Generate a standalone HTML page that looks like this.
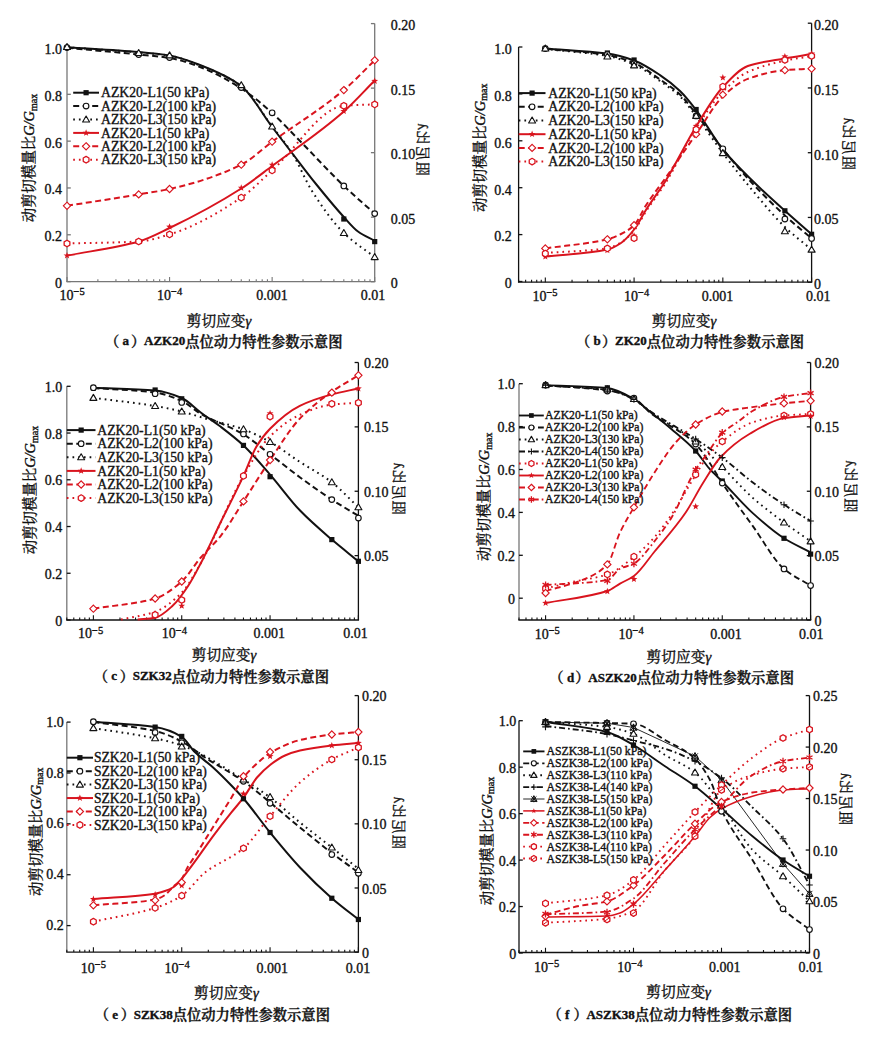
<!DOCTYPE html>
<html><head><meta charset="utf-8"><style>
html,body{margin:0;padding:0;background:#fff;}
svg{display:block;}
text{fill:#111;stroke:#111;stroke-width:0.35px;}
</style></head><body>
<svg width="878" height="1040" viewBox="0 0 878 1040">
<rect width="878" height="1040" fill="#fff"/>
<path d="M67.00 44.00V281.70" fill="none" stroke="#777777" stroke-width="1.30"/>
<path d="M374.70 23.60V281.70" fill="none" stroke="#777777" stroke-width="1.30"/>
<path d="M66.35 281.70H375.35" fill="none" stroke="#777777" stroke-width="1.30"/>
<path d="M67.00 281.60h3.80" stroke="#777777" stroke-width="1.30"/>
<text x="62.00" y="288.10" font-size="14.00" text-anchor="end" font-family="'Liberation Serif', serif" font-weight="normal">0</text>
<path d="M67.00 234.78h3.80" stroke="#777777" stroke-width="1.30"/>
<text x="62.00" y="241.28" font-size="14.00" text-anchor="end" font-family="'Liberation Serif', serif" font-weight="normal">0.2</text>
<path d="M67.00 187.96h3.80" stroke="#777777" stroke-width="1.30"/>
<text x="62.00" y="194.46" font-size="14.00" text-anchor="end" font-family="'Liberation Serif', serif" font-weight="normal">0.4</text>
<path d="M67.00 141.14h3.80" stroke="#777777" stroke-width="1.30"/>
<text x="62.00" y="147.64" font-size="14.00" text-anchor="end" font-family="'Liberation Serif', serif" font-weight="normal">0.6</text>
<path d="M67.00 94.32h3.80" stroke="#777777" stroke-width="1.30"/>
<text x="62.00" y="100.82" font-size="14.00" text-anchor="end" font-family="'Liberation Serif', serif" font-weight="normal">0.8</text>
<path d="M67.00 47.50h3.80" stroke="#777777" stroke-width="1.30"/>
<text x="62.00" y="54.00" font-size="14.00" text-anchor="end" font-family="'Liberation Serif', serif" font-weight="normal">1.0</text>
<path d="M374.70 281.70h-3.80" stroke="#777777" stroke-width="1.30"/>
<text x="390.70" y="288.20" font-size="14.00" text-anchor="start" font-family="'Liberation Serif', serif" font-weight="normal">0</text>
<path d="M374.70 217.18h-3.80" stroke="#777777" stroke-width="1.30"/>
<text x="390.70" y="223.68" font-size="14.00" text-anchor="start" font-family="'Liberation Serif', serif" font-weight="normal">0.05</text>
<path d="M374.70 152.65h-3.80" stroke="#777777" stroke-width="1.30"/>
<text x="390.70" y="159.15" font-size="14.00" text-anchor="start" font-family="'Liberation Serif', serif" font-weight="normal">0.10</text>
<path d="M374.70 88.13h-3.80" stroke="#777777" stroke-width="1.30"/>
<text x="390.70" y="94.63" font-size="14.00" text-anchor="start" font-family="'Liberation Serif', serif" font-weight="normal">0.15</text>
<path d="M374.70 23.60h-3.80" stroke="#777777" stroke-width="1.30"/>
<text x="390.70" y="30.10" font-size="14.00" text-anchor="start" font-family="'Liberation Serif', serif" font-weight="normal">0.20</text>
<path d="M67.00 281.70v-4.75" stroke="#777777" stroke-width="1.1"/>
<path d="M97.88 281.70v-2.47" stroke="#777777" stroke-width="1.1"/>
<path d="M115.94 281.70v-2.47" stroke="#777777" stroke-width="1.1"/>
<path d="M128.75 281.70v-2.47" stroke="#777777" stroke-width="1.1"/>
<path d="M138.69 281.70v-2.47" stroke="#777777" stroke-width="1.1"/>
<path d="M146.81 281.70v-2.47" stroke="#777777" stroke-width="1.1"/>
<path d="M153.68 281.70v-2.47" stroke="#777777" stroke-width="1.1"/>
<path d="M159.63 281.70v-2.47" stroke="#777777" stroke-width="1.1"/>
<path d="M164.87 281.70v-2.47" stroke="#777777" stroke-width="1.1"/>
<path d="M169.57 281.70v-4.75" stroke="#777777" stroke-width="1.1"/>
<path d="M200.44 281.70v-2.47" stroke="#777777" stroke-width="1.1"/>
<path d="M218.50 281.70v-2.47" stroke="#777777" stroke-width="1.1"/>
<path d="M231.32 281.70v-2.47" stroke="#777777" stroke-width="1.1"/>
<path d="M241.26 281.70v-2.47" stroke="#777777" stroke-width="1.1"/>
<path d="M249.38 281.70v-2.47" stroke="#777777" stroke-width="1.1"/>
<path d="M256.25 281.70v-2.47" stroke="#777777" stroke-width="1.1"/>
<path d="M262.19 281.70v-2.47" stroke="#777777" stroke-width="1.1"/>
<path d="M267.44 281.70v-2.47" stroke="#777777" stroke-width="1.1"/>
<path d="M272.13 281.70v-4.75" stroke="#777777" stroke-width="1.1"/>
<path d="M303.01 281.70v-2.47" stroke="#777777" stroke-width="1.1"/>
<path d="M321.07 281.70v-2.47" stroke="#777777" stroke-width="1.1"/>
<path d="M333.88 281.70v-2.47" stroke="#777777" stroke-width="1.1"/>
<path d="M343.82 281.70v-2.47" stroke="#777777" stroke-width="1.1"/>
<path d="M351.95 281.70v-2.47" stroke="#777777" stroke-width="1.1"/>
<path d="M358.81 281.70v-2.47" stroke="#777777" stroke-width="1.1"/>
<path d="M364.76 281.70v-2.47" stroke="#777777" stroke-width="1.1"/>
<path d="M370.01 281.70v-2.47" stroke="#777777" stroke-width="1.1"/>
<path d="M374.70 281.70v-4.75" stroke="#777777" stroke-width="1.1"/>
<text x="72.10" y="300.30" font-size="14.00" text-anchor="middle" font-family="'Liberation Serif', serif">10<tspan font-size="10.5" dy="-4.9">&#8722;5</tspan></text>
<text x="169.60" y="300.30" font-size="14.00" text-anchor="middle" font-family="'Liberation Serif', serif">10<tspan font-size="10.5" dy="-4.9">&#8722;4</tspan></text>
<text x="272.00" y="300.30" font-size="14.00" text-anchor="middle" font-family="'Liberation Serif', serif" font-weight="normal">0.001</text>
<text x="373.00" y="300.30" font-size="14.00" text-anchor="middle" font-family="'Liberation Serif', serif" font-weight="normal">0.01</text>
<text transform="translate(34.38 158.00) rotate(-90)" font-size="14.40" text-anchor="middle" font-family="'Liberation Serif', 'Noto Serif CJK SC', serif">动剪切模量比<tspan font-style="italic" font-family="'Liberation Serif', serif">G/G</tspan><tspan font-size="10" dy="2.5">max</tspan></text>
<text transform="translate(417.56 148.80) scale(-1 1) rotate(-90)" font-size="14.00" text-anchor="middle" letter-spacing="1.3" font-family="'Liberation Serif', 'Noto Serif CJK SC', serif">阻尼比<tspan font-style="italic" font-family="'Liberation Serif', serif">λ</tspan></text>
<text x="219.00" y="325.59" font-size="14.70" text-anchor="middle" font-family="'Liberation Serif', 'Noto Serif CJK SC', serif">剪切应变<tspan font-style="italic" font-family="'Liberation Serif', serif">γ</tspan></text>
<text y="346.65" font-size="14.30" font-family="'Liberation Serif', 'Noto Serif CJK SC', serif" font-weight="600"><tspan x="105.00">（</tspan><tspan x="122.60" y="345.45" font-size="13" font-weight="bold">a</tspan><tspan x="131.00" y="346.65">）</tspan><tspan x="144.00" y="345.45" font-size="13" font-weight="bold">AZK20</tspan><tspan y="346.65">点位动力特性参数示意图</tspan></text>
<path d="M67.00 47.30C90.90 48.87 114.79 49.94 138.69 52.00C148.98 52.89 159.27 53.79 169.57 55.50C179.71 57.19 189.86 61.12 200.00 65.00C213.75 70.26 227.51 75.66 241.26 86.00C251.55 93.74 261.84 113.44 272.13 127.00C278.76 135.73 285.38 144.39 292.00 153.00C300.00 163.40 308.00 174.10 316.00 184.00C325.27 195.48 334.55 206.89 343.82 217.00C348.55 222.15 353.27 228.09 358.00 231.50C363.57 235.52 369.13 237.63 374.70 240.70" fill="none" stroke="#111111" stroke-width="2.00"/>
<path d="M67.00 47.80C90.90 50.03 114.79 52.02 138.69 54.50C148.98 55.57 159.27 56.31 169.57 58.00C179.71 59.66 189.86 63.22 200.00 67.00C213.75 72.12 227.51 79.76 241.26 88.50C251.55 95.04 261.84 103.86 272.13 113.00C281.42 121.25 290.71 131.58 300.00 141.00C314.61 155.81 329.22 171.98 343.82 185.90C354.12 195.71 364.41 204.37 374.70 213.60" fill="none" stroke="#111111" stroke-width="2.00" stroke-dasharray="6 3.5"/>
<path d="M67.00 47.30C90.90 49.03 114.79 50.44 138.69 52.50C148.98 53.39 159.27 54.02 169.57 55.60C179.71 57.16 189.86 61.55 200.00 65.50C213.75 70.85 227.51 75.87 241.26 86.00C251.55 93.58 261.84 112.88 272.13 126.50C278.76 135.26 285.38 142.62 292.00 153.00C298.67 163.45 305.33 180.47 312.00 191.00C322.61 207.75 333.22 222.61 343.82 233.00C354.12 243.08 364.41 249.07 374.70 257.10" fill="none" stroke="#111111" stroke-width="2.00" stroke-dasharray="1.7 4"/>
<path d="M67.00 255.60C90.90 250.90 114.79 248.33 138.69 241.50C148.98 238.56 159.27 232.94 169.57 228.00C193.46 216.52 217.36 203.78 241.26 188.50C251.55 181.92 261.84 173.64 272.13 166.00C296.03 148.27 319.93 132.56 343.82 111.50C354.12 102.43 364.41 90.83 374.70 80.50" fill="none" stroke="#d9141e" stroke-width="2.00"/>
<path d="M67.00 205.80C90.90 202.00 114.79 198.41 138.69 194.40C148.98 192.67 159.27 191.28 169.57 189.00C193.46 183.71 217.36 176.42 241.26 164.70C251.55 159.65 261.84 149.25 272.13 141.70C296.03 124.16 319.93 110.19 343.82 90.10C354.12 81.45 364.41 70.23 374.70 60.30" fill="none" stroke="#d9141e" stroke-width="2.00" stroke-dasharray="6 3.5"/>
<path d="M67.00 243.50C90.90 242.83 114.79 242.83 138.69 241.50C148.98 240.93 159.27 237.51 169.57 234.40C193.46 227.18 217.36 213.66 241.26 197.60C251.55 190.68 261.84 179.56 272.13 170.40C296.03 149.14 319.93 107.64 343.82 105.80C354.12 105.01 364.41 104.87 374.70 104.40" fill="none" stroke="#d9141e" stroke-width="2.00" stroke-dasharray="1.7 4"/>
<rect x="341.22" y="216.40" width="5.20" height="5.20" fill="#111111"/>
<rect x="372.10" y="239.00" width="5.20" height="5.20" fill="#111111"/>
<circle cx="67.00" cy="47.50" r="2.80" fill="#fff" stroke="#111111" stroke-width="1.15"/>
<circle cx="138.69" cy="54.50" r="2.80" fill="#fff" stroke="#111111" stroke-width="1.15"/>
<circle cx="169.57" cy="57.60" r="2.80" fill="#fff" stroke="#111111" stroke-width="1.15"/>
<circle cx="241.26" cy="87.60" r="2.80" fill="#fff" stroke="#111111" stroke-width="1.15"/>
<circle cx="272.13" cy="112.80" r="2.80" fill="#fff" stroke="#111111" stroke-width="1.15"/>
<circle cx="343.82" cy="185.90" r="2.80" fill="#fff" stroke="#111111" stroke-width="1.15"/>
<circle cx="374.70" cy="213.60" r="2.80" fill="#fff" stroke="#111111" stroke-width="1.15"/>
<polygon points="67.00,43.50 70.50,49.45 63.50,49.45" fill="#fff" stroke="#111111" stroke-width="1.15" stroke-linejoin="round"/>
<polygon points="138.69,49.50 142.19,55.45 135.19,55.45" fill="#fff" stroke="#111111" stroke-width="1.15" stroke-linejoin="round"/>
<polygon points="169.57,51.90 173.07,57.85 166.07,57.85" fill="#fff" stroke="#111111" stroke-width="1.15" stroke-linejoin="round"/>
<polygon points="241.26,81.70 244.76,87.65 237.76,87.65" fill="#fff" stroke="#111111" stroke-width="1.15" stroke-linejoin="round"/>
<polygon points="272.13,123.00 275.63,128.95 268.63,128.95" fill="#fff" stroke="#111111" stroke-width="1.15" stroke-linejoin="round"/>
<polygon points="343.82,229.50 347.32,235.45 340.32,235.45" fill="#fff" stroke="#111111" stroke-width="1.15" stroke-linejoin="round"/>
<polygon points="374.70,253.60 378.20,259.55 371.20,259.55" fill="#fff" stroke="#111111" stroke-width="1.15" stroke-linejoin="round"/>
<polygon points="67.00,252.00 67.88,254.39 70.42,254.49 68.43,256.06 69.12,258.51 67.00,257.10 64.88,258.51 65.57,256.06 63.58,254.49 66.12,254.39" fill="#d9141e"/>
<polygon points="138.69,237.40 139.57,239.79 142.11,239.89 140.12,241.46 140.81,243.91 138.69,242.50 136.57,243.91 137.26,241.46 135.27,239.89 137.81,239.79" fill="#d9141e"/>
<polygon points="169.57,223.20 170.45,225.59 172.99,225.69 170.99,227.26 171.68,229.71 169.57,228.30 167.45,229.71 168.14,227.26 166.14,225.69 168.68,225.59" fill="#d9141e"/>
<polygon points="241.26,184.30 242.14,186.69 244.68,186.79 242.68,188.36 243.37,190.81 241.26,189.40 239.14,190.81 239.83,188.36 237.83,186.79 240.38,186.69" fill="#d9141e"/>
<polygon points="272.13,161.30 273.02,163.69 275.56,163.79 273.56,165.36 274.25,167.81 272.13,166.40 270.02,167.81 270.71,165.36 268.71,163.79 271.25,163.69" fill="#d9141e"/>
<polygon points="343.82,107.60 344.71,109.99 347.25,110.09 345.25,111.66 345.94,114.11 343.82,112.70 341.71,114.11 342.40,111.66 340.40,110.09 342.94,109.99" fill="#d9141e"/>
<polygon points="374.70,77.40 375.58,79.79 378.12,79.89 376.13,81.46 376.82,83.91 374.70,82.50 372.58,83.91 373.27,81.46 371.28,79.89 373.82,79.79" fill="#d9141e"/>
<polygon points="67.00,202.20 70.60,205.80 67.00,209.40 63.40,205.80" fill="#fff" stroke="#d9141e" stroke-width="1.15"/>
<polygon points="138.69,190.80 142.29,194.40 138.69,198.00 135.09,194.40" fill="#fff" stroke="#d9141e" stroke-width="1.15"/>
<polygon points="169.57,185.40 173.17,189.00 169.57,192.60 165.97,189.00" fill="#fff" stroke="#d9141e" stroke-width="1.15"/>
<polygon points="241.26,161.10 244.86,164.70 241.26,168.30 237.66,164.70" fill="#fff" stroke="#d9141e" stroke-width="1.15"/>
<polygon points="272.13,138.10 275.73,141.70 272.13,145.30 268.53,141.70" fill="#fff" stroke="#d9141e" stroke-width="1.15"/>
<polygon points="343.82,86.50 347.42,90.10 343.82,93.70 340.22,90.10" fill="#fff" stroke="#d9141e" stroke-width="1.15"/>
<polygon points="374.70,56.70 378.30,60.30 374.70,63.90 371.10,60.30" fill="#fff" stroke="#d9141e" stroke-width="1.15"/>
<polygon points="67.00,246.80 64.14,245.15 64.14,241.85 67.00,240.20 69.86,241.85 69.86,245.15" fill="#fff" stroke="#d9141e" stroke-width="1.30" stroke-linejoin="round"/>
<polygon points="138.69,244.80 135.83,243.15 135.83,239.85 138.69,238.20 141.55,239.85 141.55,243.15" fill="#fff" stroke="#d9141e" stroke-width="1.30" stroke-linejoin="round"/>
<polygon points="169.57,237.70 166.71,236.05 166.71,232.75 169.57,231.10 172.42,232.75 172.42,236.05" fill="#fff" stroke="#d9141e" stroke-width="1.30" stroke-linejoin="round"/>
<polygon points="241.26,200.90 238.40,199.25 238.40,195.95 241.26,194.30 244.12,195.95 244.12,199.25" fill="#fff" stroke="#d9141e" stroke-width="1.30" stroke-linejoin="round"/>
<polygon points="272.13,173.70 269.28,172.05 269.28,168.75 272.13,167.10 274.99,168.75 274.99,172.05" fill="#fff" stroke="#d9141e" stroke-width="1.30" stroke-linejoin="round"/>
<polygon points="343.82,109.10 340.97,107.45 340.97,104.15 343.82,102.50 346.68,104.15 346.68,107.45" fill="#fff" stroke="#d9141e" stroke-width="1.30" stroke-linejoin="round"/>
<polygon points="374.70,107.70 371.84,106.05 371.84,102.75 374.70,101.10 377.56,102.75 377.56,106.05" fill="#fff" stroke="#d9141e" stroke-width="1.30" stroke-linejoin="round"/>
<path d="M73.20 92.70H99.00" stroke="#111111" stroke-width="2.00"/>
<rect x="83.50" y="90.10" width="5.20" height="5.20" fill="#111111"/>
<text x="101.00" y="97.36" font-size="13.70" text-anchor="start" font-family="'Liberation Serif', serif" font-weight="normal">AZK20-L1(50 kPa)</text>
<path d="M73.20 106.10H99.00" stroke="#111111" stroke-width="2.00" stroke-dasharray="6 3.5"/>
<circle cx="86.10" cy="106.10" r="2.80" fill="#fff" stroke="#111111" stroke-width="1.15"/>
<text x="101.00" y="110.76" font-size="13.70" text-anchor="start" font-family="'Liberation Serif', serif" font-weight="normal">AZK20-L2(100 kPa)</text>
<path d="M73.20 119.50H99.00" stroke="#111111" stroke-width="2.00" stroke-dasharray="1.7 4"/>
<polygon points="86.10,116.00 89.60,121.95 82.60,121.95" fill="#fff" stroke="#111111" stroke-width="1.15" stroke-linejoin="round"/>
<text x="101.00" y="124.16" font-size="13.70" text-anchor="start" font-family="'Liberation Serif', serif" font-weight="normal">AZK20-L3(150 kPa)</text>
<path d="M73.20 132.90H99.00" stroke="#d9141e" stroke-width="2.00"/>
<polygon points="86.10,129.30 86.98,131.69 89.52,131.79 87.53,133.36 88.22,135.81 86.10,134.40 83.98,135.81 84.67,133.36 82.68,131.79 85.22,131.69" fill="#d9141e"/>
<text x="101.00" y="137.56" font-size="13.70" text-anchor="start" font-family="'Liberation Serif', serif" font-weight="normal">AZK20-L1(50 kPa)</text>
<path d="M73.20 146.30H99.00" stroke="#d9141e" stroke-width="2.00" stroke-dasharray="6 3.5"/>
<polygon points="86.10,142.70 89.70,146.30 86.10,149.90 82.50,146.30" fill="#fff" stroke="#d9141e" stroke-width="1.15"/>
<text x="101.00" y="150.96" font-size="13.70" text-anchor="start" font-family="'Liberation Serif', serif" font-weight="normal">AZK20-L2(100 kPa)</text>
<path d="M73.20 159.70H99.00" stroke="#d9141e" stroke-width="2.00" stroke-dasharray="1.7 4"/>
<polygon points="86.10,163.00 83.24,161.35 83.24,158.05 86.10,156.40 88.96,158.05 88.96,161.35" fill="#fff" stroke="#d9141e" stroke-width="1.30" stroke-linejoin="round"/>
<text x="101.00" y="164.36" font-size="13.70" text-anchor="start" font-family="'Liberation Serif', serif" font-weight="normal">AZK20-L3(150 kPa)</text>
<path d="M518.60 47.00V282.20" fill="none" stroke="#111111" stroke-width="1.30"/>
<path d="M811.60 23.20V282.20" fill="none" stroke="#111111" stroke-width="1.30"/>
<path d="M517.95 282.20H812.25" fill="none" stroke="#111111" stroke-width="1.30"/>
<path d="M518.60 281.50h3.80" stroke="#111111" stroke-width="1.30"/>
<text x="511.80" y="288.30" font-size="14.00" text-anchor="end" font-family="'Liberation Serif', serif" font-weight="normal">0</text>
<path d="M518.60 234.60h3.80" stroke="#111111" stroke-width="1.30"/>
<text x="511.80" y="241.40" font-size="14.00" text-anchor="end" font-family="'Liberation Serif', serif" font-weight="normal">0.2</text>
<path d="M518.60 187.70h3.80" stroke="#111111" stroke-width="1.30"/>
<text x="511.80" y="194.50" font-size="14.00" text-anchor="end" font-family="'Liberation Serif', serif" font-weight="normal">0.4</text>
<path d="M518.60 140.80h3.80" stroke="#111111" stroke-width="1.30"/>
<text x="511.80" y="147.60" font-size="14.00" text-anchor="end" font-family="'Liberation Serif', serif" font-weight="normal">0.6</text>
<path d="M518.60 93.90h3.80" stroke="#111111" stroke-width="1.30"/>
<text x="511.80" y="100.70" font-size="14.00" text-anchor="end" font-family="'Liberation Serif', serif" font-weight="normal">0.8</text>
<path d="M518.60 47.00h3.80" stroke="#111111" stroke-width="1.30"/>
<text x="511.80" y="53.80" font-size="14.00" text-anchor="end" font-family="'Liberation Serif', serif" font-weight="normal">1.0</text>
<path d="M811.60 282.20h-3.80" stroke="#111111" stroke-width="1.30"/>
<text x="814.00" y="289.00" font-size="14.00" text-anchor="start" font-family="'Liberation Serif', serif" font-weight="normal">0</text>
<path d="M811.60 217.45h-3.80" stroke="#111111" stroke-width="1.30"/>
<text x="814.00" y="224.25" font-size="14.00" text-anchor="start" font-family="'Liberation Serif', serif" font-weight="normal">0.05</text>
<path d="M811.60 152.70h-3.80" stroke="#111111" stroke-width="1.30"/>
<text x="814.00" y="159.50" font-size="14.00" text-anchor="start" font-family="'Liberation Serif', serif" font-weight="normal">0.10</text>
<path d="M811.60 87.95h-3.80" stroke="#111111" stroke-width="1.30"/>
<text x="814.00" y="94.75" font-size="14.00" text-anchor="start" font-family="'Liberation Serif', serif" font-weight="normal">0.15</text>
<path d="M811.60 23.20h-3.80" stroke="#111111" stroke-width="1.30"/>
<text x="814.00" y="30.00" font-size="14.00" text-anchor="start" font-family="'Liberation Serif', serif" font-weight="normal">0.20</text>
<path d="M518.60 282.20v-2.47" stroke="#111111" stroke-width="1.1"/>
<path d="M525.63 282.20v-2.47" stroke="#111111" stroke-width="1.1"/>
<path d="M531.57 282.20v-2.47" stroke="#111111" stroke-width="1.1"/>
<path d="M536.72 282.20v-2.47" stroke="#111111" stroke-width="1.1"/>
<path d="M541.26 282.20v-2.47" stroke="#111111" stroke-width="1.1"/>
<path d="M545.32 282.20v-4.75" stroke="#111111" stroke-width="1.1"/>
<path d="M572.04 282.20v-2.47" stroke="#111111" stroke-width="1.1"/>
<path d="M587.67 282.20v-2.47" stroke="#111111" stroke-width="1.1"/>
<path d="M598.76 282.20v-2.47" stroke="#111111" stroke-width="1.1"/>
<path d="M607.36 282.20v-2.47" stroke="#111111" stroke-width="1.1"/>
<path d="M614.39 282.20v-2.47" stroke="#111111" stroke-width="1.1"/>
<path d="M620.33 282.20v-2.47" stroke="#111111" stroke-width="1.1"/>
<path d="M625.48 282.20v-2.47" stroke="#111111" stroke-width="1.1"/>
<path d="M630.02 282.20v-2.47" stroke="#111111" stroke-width="1.1"/>
<path d="M634.08 282.20v-4.75" stroke="#111111" stroke-width="1.1"/>
<path d="M660.80 282.20v-2.47" stroke="#111111" stroke-width="1.1"/>
<path d="M676.43 282.20v-2.47" stroke="#111111" stroke-width="1.1"/>
<path d="M687.52 282.20v-2.47" stroke="#111111" stroke-width="1.1"/>
<path d="M696.12 282.20v-2.47" stroke="#111111" stroke-width="1.1"/>
<path d="M703.15 282.20v-2.47" stroke="#111111" stroke-width="1.1"/>
<path d="M709.09 282.20v-2.47" stroke="#111111" stroke-width="1.1"/>
<path d="M714.24 282.20v-2.47" stroke="#111111" stroke-width="1.1"/>
<path d="M718.78 282.20v-2.47" stroke="#111111" stroke-width="1.1"/>
<path d="M722.84 282.20v-4.75" stroke="#111111" stroke-width="1.1"/>
<path d="M749.56 282.20v-2.47" stroke="#111111" stroke-width="1.1"/>
<path d="M765.19 282.20v-2.47" stroke="#111111" stroke-width="1.1"/>
<path d="M776.28 282.20v-2.47" stroke="#111111" stroke-width="1.1"/>
<path d="M784.88 282.20v-2.47" stroke="#111111" stroke-width="1.1"/>
<path d="M791.91 282.20v-2.47" stroke="#111111" stroke-width="1.1"/>
<path d="M797.85 282.20v-2.47" stroke="#111111" stroke-width="1.1"/>
<path d="M803.00 282.20v-2.47" stroke="#111111" stroke-width="1.1"/>
<path d="M807.54 282.20v-2.47" stroke="#111111" stroke-width="1.1"/>
<path d="M811.60 282.20v-4.75" stroke="#111111" stroke-width="1.1"/>
<text x="545.00" y="300.80" font-size="14.00" text-anchor="middle" font-family="'Liberation Serif', serif">10<tspan font-size="10.5" dy="-4.9">&#8722;5</tspan></text>
<text x="636.60" y="300.80" font-size="14.00" text-anchor="middle" font-family="'Liberation Serif', serif">10<tspan font-size="10.5" dy="-4.9">&#8722;4</tspan></text>
<text x="717.50" y="300.80" font-size="14.00" text-anchor="middle" font-family="'Liberation Serif', serif" font-weight="normal">0.001</text>
<text x="818.20" y="300.80" font-size="14.00" text-anchor="middle" font-family="'Liberation Serif', serif" font-weight="normal">0.01</text>
<text transform="translate(484.68 147.80) rotate(-90)" font-size="14.40" text-anchor="middle" font-family="'Liberation Serif', 'Noto Serif CJK SC', serif">动剪切模量比<tspan font-style="italic" font-family="'Liberation Serif', serif">G/G</tspan><tspan font-size="10" dy="2.5">max</tspan></text>
<text transform="translate(843.96 143.00) scale(-1 1) rotate(-90)" font-size="14.00" text-anchor="middle" letter-spacing="1.3" font-family="'Liberation Serif', 'Noto Serif CJK SC', serif">阻尼比<tspan font-style="italic" font-family="'Liberation Serif', serif">λ</tspan></text>
<text x="684.00" y="325.59" font-size="14.70" text-anchor="middle" font-family="'Liberation Serif', 'Noto Serif CJK SC', serif">剪切应变<tspan font-style="italic" font-family="'Liberation Serif', serif">γ</tspan></text>
<text y="346.65" font-size="14.30" font-family="'Liberation Serif', 'Noto Serif CJK SC', serif" font-weight="600"><tspan x="576.00">（</tspan><tspan x="593.60" y="345.45" font-size="13" font-weight="bold">b</tspan><tspan x="602.00" y="346.65">）</tspan><tspan x="615.00" y="345.45" font-size="13" font-weight="bold">ZK20</tspan><tspan y="346.65">点位动力特性参数示意图</tspan></text>
<path d="M545.32 48.50C566.00 50.20 586.68 50.83 607.36 53.60C616.27 54.79 625.17 57.34 634.08 60.50C642.72 63.57 651.36 69.36 660.00 75.10C666.67 79.53 673.33 84.63 680.00 91.00C685.37 96.14 690.75 103.02 696.12 110.00C705.03 121.57 713.93 138.50 722.84 149.50C732.89 161.92 742.95 171.38 753.00 181.30C763.63 191.78 774.25 201.22 784.88 210.80C793.79 218.83 802.69 226.47 811.60 234.30" fill="none" stroke="#111111" stroke-width="2.00"/>
<path d="M545.32 48.80C566.00 50.87 586.68 51.68 607.36 55.00C616.27 56.43 625.17 59.37 634.08 63.00C642.72 66.53 651.36 73.53 660.00 79.50C666.67 84.11 673.33 88.27 680.00 94.50C685.37 99.52 690.75 107.26 696.12 114.00C705.03 125.17 713.93 138.03 722.84 149.00C732.89 161.39 742.95 173.26 753.00 184.00C763.63 195.35 774.25 205.77 784.88 215.50C793.79 223.66 802.69 230.77 811.60 238.40" fill="none" stroke="#111111" stroke-width="2.00" stroke-dasharray="6 3.5"/>
<path d="M545.32 49.00C566.00 51.33 586.68 52.32 607.36 56.00C616.27 57.58 625.17 60.72 634.08 64.50C642.72 68.17 651.36 74.94 660.00 81.00C666.67 85.68 673.33 90.15 680.00 96.50C685.37 101.62 690.75 109.10 696.12 116.00C705.03 127.44 713.93 141.24 722.84 153.00C732.89 166.28 742.95 179.02 753.00 191.00C763.63 203.66 774.25 216.74 784.88 227.00C793.79 235.60 802.69 242.13 811.60 249.70" fill="none" stroke="#111111" stroke-width="2.00" stroke-dasharray="1.7 4"/>
<path d="M545.32 256.50C566.00 254.20 586.68 253.92 607.36 249.60C611.91 248.65 616.45 246.00 621.00 243.00C625.36 240.12 629.72 235.05 634.08 229.50C638.12 224.35 642.16 215.82 646.20 209.50C652.63 199.43 659.07 191.31 665.50 181.00C675.71 164.64 685.91 142.95 696.12 126.50C705.03 112.14 713.93 96.52 722.84 87.00C731.16 78.11 739.48 68.86 747.80 66.00C760.16 61.76 772.52 60.61 784.88 58.40C793.79 56.80 802.69 55.53 811.60 54.10" fill="none" stroke="#d9141e" stroke-width="2.00"/>
<path d="M545.32 248.40C566.00 245.37 586.68 244.17 607.36 239.30C611.91 238.23 616.45 236.24 621.00 234.00C625.36 231.85 629.72 229.40 634.08 225.20C638.12 221.31 642.16 211.19 646.20 205.00C652.63 195.15 659.07 187.09 665.50 178.00C675.71 163.57 685.91 148.70 696.12 134.20C705.03 121.55 713.93 104.84 722.84 96.50C731.16 88.71 739.48 81.93 747.80 78.90C760.16 74.40 772.52 71.28 784.88 70.20C793.79 69.42 802.69 69.20 811.60 68.70" fill="none" stroke="#d9141e" stroke-width="2.00" stroke-dasharray="6 3.5"/>
<path d="M545.32 253.00C566.00 251.40 586.68 251.36 607.36 248.20C611.91 247.50 616.45 245.12 621.00 242.50C625.36 239.99 629.72 235.61 634.08 230.50C638.12 225.76 642.16 217.19 646.20 211.00C652.63 201.15 659.07 193.24 665.50 183.00C675.71 166.75 685.91 143.72 696.12 128.00C705.03 114.29 713.93 100.69 722.84 91.80C731.16 83.50 739.48 75.77 747.80 72.00C760.16 66.40 772.52 63.42 784.88 60.70C793.79 58.74 802.69 57.57 811.60 56.00" fill="none" stroke="#d9141e" stroke-width="2.00" stroke-dasharray="1.7 4"/>
<rect x="542.72" y="45.90" width="5.20" height="5.20" fill="#111111"/>
<rect x="604.76" y="50.40" width="5.20" height="5.20" fill="#111111"/>
<rect x="631.48" y="57.40" width="5.20" height="5.20" fill="#111111"/>
<rect x="693.52" y="106.90" width="5.20" height="5.20" fill="#111111"/>
<rect x="720.24" y="146.90" width="5.20" height="5.20" fill="#111111"/>
<rect x="782.28" y="208.20" width="5.20" height="5.20" fill="#111111"/>
<rect x="809.00" y="231.70" width="5.20" height="5.20" fill="#111111"/>
<circle cx="545.32" cy="48.50" r="2.80" fill="#fff" stroke="#111111" stroke-width="1.15"/>
<circle cx="607.36" cy="54.50" r="2.80" fill="#fff" stroke="#111111" stroke-width="1.15"/>
<circle cx="634.08" cy="63.60" r="2.80" fill="#fff" stroke="#111111" stroke-width="1.15"/>
<circle cx="696.12" cy="115.90" r="2.80" fill="#fff" stroke="#111111" stroke-width="1.15"/>
<circle cx="722.84" cy="148.80" r="2.80" fill="#fff" stroke="#111111" stroke-width="1.15"/>
<circle cx="784.88" cy="219.00" r="2.80" fill="#fff" stroke="#111111" stroke-width="1.15"/>
<circle cx="811.60" cy="238.40" r="2.80" fill="#fff" stroke="#111111" stroke-width="1.15"/>
<polygon points="545.32,45.00 548.82,50.95 541.82,50.95" fill="#fff" stroke="#111111" stroke-width="1.15" stroke-linejoin="round"/>
<polygon points="607.36,53.00 610.86,58.95 603.86,58.95" fill="#fff" stroke="#111111" stroke-width="1.15" stroke-linejoin="round"/>
<polygon points="634.08,61.90 637.58,67.85 630.58,67.85" fill="#fff" stroke="#111111" stroke-width="1.15" stroke-linejoin="round"/>
<polygon points="696.12,112.40 699.62,118.35 692.62,118.35" fill="#fff" stroke="#111111" stroke-width="1.15" stroke-linejoin="round"/>
<polygon points="722.84,149.60 726.34,155.55 719.34,155.55" fill="#fff" stroke="#111111" stroke-width="1.15" stroke-linejoin="round"/>
<polygon points="784.88,227.80 788.38,233.75 781.38,233.75" fill="#fff" stroke="#111111" stroke-width="1.15" stroke-linejoin="round"/>
<polygon points="811.60,246.20 815.10,252.15 808.10,252.15" fill="#fff" stroke="#111111" stroke-width="1.15" stroke-linejoin="round"/>
<polygon points="545.32,253.10 546.20,255.49 548.74,255.59 546.75,257.16 547.44,259.61 545.32,258.20 543.20,259.61 543.89,257.16 541.90,255.59 544.44,255.49" fill="#d9141e"/>
<polygon points="607.36,246.70 608.24,249.09 610.78,249.19 608.79,250.76 609.48,253.21 607.36,251.80 605.24,253.21 605.93,250.76 603.94,249.19 606.48,249.09" fill="#d9141e"/>
<polygon points="634.08,232.20 634.96,234.59 637.50,234.69 635.51,236.26 636.20,238.71 634.08,237.30 631.96,238.71 632.65,236.26 630.66,234.69 633.20,234.59" fill="#d9141e"/>
<polygon points="696.12,122.40 697.00,124.79 699.54,124.89 697.55,126.46 698.24,128.91 696.12,127.50 694.00,128.91 694.69,126.46 692.70,124.89 695.24,124.79" fill="#d9141e"/>
<polygon points="722.84,74.10 723.72,76.49 726.26,76.59 724.27,78.16 724.96,80.61 722.84,79.20 720.72,80.61 721.41,78.16 719.42,76.59 721.96,76.49" fill="#d9141e"/>
<polygon points="784.88,52.90 785.76,55.29 788.30,55.39 786.31,56.96 787.00,59.41 784.88,58.00 782.76,59.41 783.45,56.96 781.46,55.39 784.00,55.29" fill="#d9141e"/>
<polygon points="811.60,50.10 812.48,52.49 815.02,52.59 813.03,54.16 813.72,56.61 811.60,55.20 809.48,56.61 810.17,54.16 808.18,52.59 810.72,52.49" fill="#d9141e"/>
<polygon points="545.32,244.80 548.92,248.40 545.32,252.00 541.72,248.40" fill="#fff" stroke="#d9141e" stroke-width="1.15"/>
<polygon points="607.36,235.70 610.96,239.30 607.36,242.90 603.76,239.30" fill="#fff" stroke="#d9141e" stroke-width="1.15"/>
<polygon points="634.08,221.60 637.68,225.20 634.08,228.80 630.48,225.20" fill="#fff" stroke="#d9141e" stroke-width="1.15"/>
<polygon points="696.12,130.60 699.72,134.20 696.12,137.80 692.52,134.20" fill="#fff" stroke="#d9141e" stroke-width="1.15"/>
<polygon points="722.84,91.10 726.44,94.70 722.84,98.30 719.24,94.70" fill="#fff" stroke="#d9141e" stroke-width="1.15"/>
<polygon points="784.88,66.60 788.48,70.20 784.88,73.80 781.28,70.20" fill="#fff" stroke="#d9141e" stroke-width="1.15"/>
<polygon points="811.60,65.10 815.20,68.70 811.60,72.30 808.00,68.70" fill="#fff" stroke="#d9141e" stroke-width="1.15"/>
<polygon points="545.32,256.90 542.46,255.25 542.46,251.95 545.32,250.30 548.18,251.95 548.18,255.25" fill="#fff" stroke="#d9141e" stroke-width="1.30" stroke-linejoin="round"/>
<polygon points="607.36,251.70 604.50,250.05 604.50,246.75 607.36,245.10 610.22,246.75 610.22,250.05" fill="#fff" stroke="#d9141e" stroke-width="1.30" stroke-linejoin="round"/>
<polygon points="634.08,241.50 631.22,239.85 631.22,236.55 634.08,234.90 636.94,236.55 636.94,239.85" fill="#fff" stroke="#d9141e" stroke-width="1.30" stroke-linejoin="round"/>
<polygon points="696.12,132.80 693.26,131.15 693.26,127.85 696.12,126.20 698.98,127.85 698.98,131.15" fill="#fff" stroke="#d9141e" stroke-width="1.30" stroke-linejoin="round"/>
<polygon points="722.84,89.90 719.98,88.25 719.98,84.95 722.84,83.30 725.70,84.95 725.70,88.25" fill="#fff" stroke="#d9141e" stroke-width="1.30" stroke-linejoin="round"/>
<polygon points="784.88,63.30 782.02,61.65 782.02,58.35 784.88,56.70 787.74,58.35 787.74,61.65" fill="#fff" stroke="#d9141e" stroke-width="1.30" stroke-linejoin="round"/>
<polygon points="811.60,59.30 808.74,57.65 808.74,54.35 811.60,52.70 814.46,54.35 814.46,57.65" fill="#fff" stroke="#d9141e" stroke-width="1.30" stroke-linejoin="round"/>
<path d="M518.70 93.10H545.50" stroke="#111111" stroke-width="2.00"/>
<rect x="529.50" y="90.50" width="5.20" height="5.20" fill="#111111"/>
<text x="548.30" y="97.76" font-size="13.70" text-anchor="start" font-family="'Liberation Serif', serif" font-weight="normal">AZK20-L1(50 kPa)</text>
<path d="M518.70 106.80H545.50" stroke="#111111" stroke-width="2.00" stroke-dasharray="6 3.5"/>
<circle cx="532.10" cy="106.80" r="2.80" fill="#fff" stroke="#111111" stroke-width="1.15"/>
<text x="548.30" y="111.46" font-size="13.70" text-anchor="start" font-family="'Liberation Serif', serif" font-weight="normal">AZK20-L2(100 kPa)</text>
<path d="M518.70 120.50H545.50" stroke="#111111" stroke-width="2.00" stroke-dasharray="1.7 4"/>
<polygon points="532.10,117.00 535.60,122.95 528.60,122.95" fill="#fff" stroke="#111111" stroke-width="1.15" stroke-linejoin="round"/>
<text x="548.30" y="125.16" font-size="13.70" text-anchor="start" font-family="'Liberation Serif', serif" font-weight="normal">AZK20-L3(150 kPa)</text>
<path d="M518.70 134.20H545.50" stroke="#d9141e" stroke-width="2.00"/>
<polygon points="532.10,130.60 532.98,132.99 535.52,133.09 533.53,134.66 534.22,137.11 532.10,135.70 529.98,137.11 530.67,134.66 528.68,133.09 531.22,132.99" fill="#d9141e"/>
<text x="548.30" y="138.86" font-size="13.70" text-anchor="start" font-family="'Liberation Serif', serif" font-weight="normal">AZK20-L1(50 kPa)</text>
<path d="M518.70 147.90H545.50" stroke="#d9141e" stroke-width="2.00" stroke-dasharray="6 3.5"/>
<polygon points="532.10,144.30 535.70,147.90 532.10,151.50 528.50,147.90" fill="#fff" stroke="#d9141e" stroke-width="1.15"/>
<text x="548.30" y="152.56" font-size="13.70" text-anchor="start" font-family="'Liberation Serif', serif" font-weight="normal">AZK20-L2(100 kPa)</text>
<path d="M518.70 161.60H545.50" stroke="#d9141e" stroke-width="2.00" stroke-dasharray="1.7 4"/>
<polygon points="532.10,164.90 529.24,163.25 529.24,159.95 532.10,158.30 534.96,159.95 534.96,163.25" fill="#fff" stroke="#d9141e" stroke-width="1.30" stroke-linejoin="round"/>
<text x="548.30" y="166.26" font-size="13.70" text-anchor="start" font-family="'Liberation Serif', serif" font-weight="normal">AZK20-L3(150 kPa)</text>
<path d="M66.80 386.30V620.00" fill="none" stroke="#777777" stroke-width="1.30"/>
<path d="M358.40 362.50V620.00" fill="none" stroke="#111111" stroke-width="1.30"/>
<path d="M66.15 620.00H359.05" fill="none" stroke="#111111" stroke-width="1.30"/>
<path d="M66.80 620.00h3.80" stroke="#111111" stroke-width="1.30"/>
<text x="62.20" y="625.60" font-size="14.00" text-anchor="end" font-family="'Liberation Serif', serif" font-weight="normal">0</text>
<path d="M66.80 573.26h3.80" stroke="#111111" stroke-width="1.30"/>
<text x="62.20" y="578.86" font-size="14.00" text-anchor="end" font-family="'Liberation Serif', serif" font-weight="normal">0.2</text>
<path d="M66.80 526.52h3.80" stroke="#111111" stroke-width="1.30"/>
<text x="62.20" y="532.12" font-size="14.00" text-anchor="end" font-family="'Liberation Serif', serif" font-weight="normal">0.4</text>
<path d="M66.80 479.78h3.80" stroke="#111111" stroke-width="1.30"/>
<text x="62.20" y="485.38" font-size="14.00" text-anchor="end" font-family="'Liberation Serif', serif" font-weight="normal">0.6</text>
<path d="M66.80 433.04h3.80" stroke="#111111" stroke-width="1.30"/>
<text x="62.20" y="438.64" font-size="14.00" text-anchor="end" font-family="'Liberation Serif', serif" font-weight="normal">0.8</text>
<path d="M66.80 386.30h3.80" stroke="#111111" stroke-width="1.30"/>
<text x="62.20" y="391.90" font-size="14.00" text-anchor="end" font-family="'Liberation Serif', serif" font-weight="normal">1.0</text>
<path d="M358.40 555.62h-3.80" stroke="#111111" stroke-width="1.30"/>
<text x="364.00" y="561.23" font-size="14.00" text-anchor="start" font-family="'Liberation Serif', serif" font-weight="normal">0.05</text>
<path d="M358.40 491.25h-3.80" stroke="#111111" stroke-width="1.30"/>
<text x="364.00" y="496.85" font-size="14.00" text-anchor="start" font-family="'Liberation Serif', serif" font-weight="normal">0.10</text>
<path d="M358.40 426.88h-3.80" stroke="#111111" stroke-width="1.30"/>
<text x="364.00" y="432.48" font-size="14.00" text-anchor="start" font-family="'Liberation Serif', serif" font-weight="normal">0.15</text>
<path d="M358.40 362.50h-3.80" stroke="#111111" stroke-width="1.30"/>
<text x="364.00" y="368.10" font-size="14.00" text-anchor="start" font-family="'Liberation Serif', serif" font-weight="normal">0.20</text>
<path d="M66.80 620.00v-2.47" stroke="#111111" stroke-width="1.1"/>
<path d="M73.79 620.00v-2.47" stroke="#111111" stroke-width="1.1"/>
<path d="M79.71 620.00v-2.47" stroke="#111111" stroke-width="1.1"/>
<path d="M84.83 620.00v-2.47" stroke="#111111" stroke-width="1.1"/>
<path d="M89.35 620.00v-2.47" stroke="#111111" stroke-width="1.1"/>
<path d="M93.39 620.00v-4.75" stroke="#111111" stroke-width="1.1"/>
<path d="M119.98 620.00v-2.47" stroke="#111111" stroke-width="1.1"/>
<path d="M135.54 620.00v-2.47" stroke="#111111" stroke-width="1.1"/>
<path d="M146.58 620.00v-2.47" stroke="#111111" stroke-width="1.1"/>
<path d="M155.14 620.00v-2.47" stroke="#111111" stroke-width="1.1"/>
<path d="M162.13 620.00v-2.47" stroke="#111111" stroke-width="1.1"/>
<path d="M168.04 620.00v-2.47" stroke="#111111" stroke-width="1.1"/>
<path d="M173.17 620.00v-2.47" stroke="#111111" stroke-width="1.1"/>
<path d="M177.69 620.00v-2.47" stroke="#111111" stroke-width="1.1"/>
<path d="M181.73 620.00v-4.75" stroke="#111111" stroke-width="1.1"/>
<path d="M208.32 620.00v-2.47" stroke="#111111" stroke-width="1.1"/>
<path d="M223.87 620.00v-2.47" stroke="#111111" stroke-width="1.1"/>
<path d="M234.91 620.00v-2.47" stroke="#111111" stroke-width="1.1"/>
<path d="M243.47 620.00v-2.47" stroke="#111111" stroke-width="1.1"/>
<path d="M250.47 620.00v-2.47" stroke="#111111" stroke-width="1.1"/>
<path d="M256.38 620.00v-2.47" stroke="#111111" stroke-width="1.1"/>
<path d="M261.50 620.00v-2.47" stroke="#111111" stroke-width="1.1"/>
<path d="M266.02 620.00v-2.47" stroke="#111111" stroke-width="1.1"/>
<path d="M270.06 620.00v-4.75" stroke="#111111" stroke-width="1.1"/>
<path d="M296.66 620.00v-2.47" stroke="#111111" stroke-width="1.1"/>
<path d="M312.21 620.00v-2.47" stroke="#111111" stroke-width="1.1"/>
<path d="M323.25 620.00v-2.47" stroke="#111111" stroke-width="1.1"/>
<path d="M331.81 620.00v-2.47" stroke="#111111" stroke-width="1.1"/>
<path d="M338.80 620.00v-2.47" stroke="#111111" stroke-width="1.1"/>
<path d="M344.72 620.00v-2.47" stroke="#111111" stroke-width="1.1"/>
<path d="M349.84 620.00v-2.47" stroke="#111111" stroke-width="1.1"/>
<path d="M354.36 620.00v-2.47" stroke="#111111" stroke-width="1.1"/>
<path d="M358.40 620.00v-4.75" stroke="#111111" stroke-width="1.1"/>
<text x="90.70" y="638.40" font-size="14.00" text-anchor="middle" font-family="'Liberation Serif', serif">10<tspan font-size="10.5" dy="-4.9">&#8722;5</tspan></text>
<text x="174.40" y="638.40" font-size="14.00" text-anchor="middle" font-family="'Liberation Serif', serif">10<tspan font-size="10.5" dy="-4.9">&#8722;4</tspan></text>
<text x="269.30" y="638.40" font-size="14.00" text-anchor="middle" font-family="'Liberation Serif', serif" font-weight="normal">0.001</text>
<text x="355.50" y="638.40" font-size="14.00" text-anchor="middle" font-family="'Liberation Serif', serif" font-weight="normal">0.01</text>
<text transform="translate(35.28 490.00) rotate(-90)" font-size="14.40" text-anchor="middle" font-family="'Liberation Serif', 'Noto Serif CJK SC', serif">动剪切模量比<tspan font-style="italic" font-family="'Liberation Serif', serif">G/G</tspan><tspan font-size="10" dy="2.5">max</tspan></text>
<text transform="translate(394.06 487.90) scale(-1 1) rotate(-90)" font-size="14.00" text-anchor="middle" letter-spacing="1.3" font-family="'Liberation Serif', 'Noto Serif CJK SC', serif">阻尼比<tspan font-style="italic" font-family="'Liberation Serif', serif">λ</tspan></text>
<text x="224.00" y="660.49" font-size="14.70" text-anchor="middle" font-family="'Liberation Serif', 'Noto Serif CJK SC', serif">剪切应变<tspan font-style="italic" font-family="'Liberation Serif', serif">γ</tspan></text>
<text y="681.55" font-size="14.30" font-family="'Liberation Serif', 'Noto Serif CJK SC', serif" font-weight="600"><tspan x="93.70">（</tspan><tspan x="111.30" y="680.35" font-size="13" font-weight="bold">c</tspan><tspan x="119.70" y="681.55">）</tspan><tspan x="132.70" y="680.35" font-size="13" font-weight="bold">SZK32</tspan><tspan y="681.55">点位动力特性参数示意图</tspan></text>
<path d="M93.39 387.70C113.97 388.63 134.55 388.72 155.14 390.50C164.00 391.27 172.86 394.25 181.73 398.00C187.95 400.63 194.18 407.61 200.40 412.20C207.20 417.22 214.00 421.61 220.80 426.80C228.36 432.57 235.91 438.33 243.47 445.40C252.34 453.69 261.20 464.44 270.06 474.60C279.98 485.96 289.89 499.99 299.80 510.30C310.47 521.40 321.14 530.41 331.81 539.60C340.67 547.23 349.54 554.07 358.40 561.30" fill="none" stroke="#111111" stroke-width="2.00"/>
<path d="M93.39 388.00C113.97 389.50 134.55 389.83 155.14 392.50C164.00 393.65 172.86 397.08 181.73 401.00C187.95 403.75 194.18 409.92 200.40 413.50C214.76 421.75 229.11 425.80 243.47 434.40C252.34 439.71 261.20 447.57 270.06 454.30C279.98 461.82 289.89 469.93 299.80 477.20C310.47 485.03 321.14 492.64 331.81 499.60C340.67 505.38 349.54 510.47 358.40 515.90" fill="none" stroke="#111111" stroke-width="2.00" stroke-dasharray="6 3.5"/>
<path d="M93.39 397.90C113.97 400.60 134.55 402.59 155.14 406.00C164.00 407.47 172.86 409.33 181.73 411.50C190.35 413.61 198.98 416.70 207.60 419.20C219.56 422.67 231.51 425.01 243.47 429.30C252.34 432.48 261.20 437.07 270.06 442.00C279.98 447.51 289.89 455.43 299.80 461.90C310.47 468.87 321.14 474.15 331.81 482.30C340.67 489.07 349.54 498.97 358.40 507.30" fill="none" stroke="#111111" stroke-width="2.00" stroke-dasharray="1.7 4"/>
<path d="M137.70 619.60C143.51 619.00 149.32 618.84 155.14 617.80C161.02 616.74 166.91 610.92 172.80 605.60C177.90 600.99 183.00 593.66 188.10 586.00C192.20 579.84 196.30 571.80 200.40 564.00C207.20 551.06 214.00 535.91 220.80 522.00C228.36 506.54 235.91 492.11 243.47 475.90C247.81 466.58 252.16 453.81 256.50 446.60C261.02 439.09 265.54 433.34 270.06 428.80C279.98 418.86 289.89 410.78 299.80 405.90C310.47 400.65 321.14 397.31 331.81 394.40C340.67 391.99 349.54 390.47 358.40 388.50" fill="none" stroke="#d9141e" stroke-width="2.00"/>
<path d="M93.39 608.70C113.97 605.30 134.55 604.36 155.14 598.50C164.00 595.98 172.86 589.16 181.73 581.50C187.95 576.12 194.18 565.27 200.40 558.00C207.20 550.05 214.00 544.39 220.80 535.80C228.36 526.25 235.91 513.00 243.47 501.40C252.34 487.80 261.20 473.14 270.06 460.10C279.98 445.51 289.89 429.01 299.80 418.60C310.47 407.40 321.14 399.37 331.81 391.80C340.67 385.51 349.54 380.80 358.40 375.30" fill="none" stroke="#d9141e" stroke-width="2.00" stroke-dasharray="6 3.5"/>
<path d="M121.00 619.60C132.38 616.97 143.76 615.76 155.14 611.70C164.00 608.53 172.86 601.56 181.73 592.70C187.95 586.48 194.18 574.56 200.40 563.80C214.76 538.97 229.11 500.28 243.47 475.90C252.34 460.85 261.20 445.10 270.06 436.40C279.98 426.67 289.89 419.21 299.80 414.80C310.47 410.05 321.14 405.77 331.81 404.60C340.67 403.63 349.54 403.40 358.40 402.80" fill="none" stroke="#d9141e" stroke-width="2.00" stroke-dasharray="1.7 4"/>
<rect x="90.79" y="385.40" width="5.20" height="5.20" fill="#111111"/>
<rect x="152.54" y="387.40" width="5.20" height="5.20" fill="#111111"/>
<rect x="179.13" y="396.20" width="5.20" height="5.20" fill="#111111"/>
<rect x="240.87" y="442.80" width="5.20" height="5.20" fill="#111111"/>
<rect x="267.46" y="474.10" width="5.20" height="5.20" fill="#111111"/>
<rect x="329.21" y="537.00" width="5.20" height="5.20" fill="#111111"/>
<rect x="355.80" y="558.70" width="5.20" height="5.20" fill="#111111"/>
<circle cx="93.39" cy="387.70" r="2.80" fill="#fff" stroke="#111111" stroke-width="1.15"/>
<circle cx="155.14" cy="393.70" r="2.80" fill="#fff" stroke="#111111" stroke-width="1.15"/>
<circle cx="181.73" cy="402.40" r="2.80" fill="#fff" stroke="#111111" stroke-width="1.15"/>
<circle cx="243.47" cy="433.90" r="2.80" fill="#fff" stroke="#111111" stroke-width="1.15"/>
<circle cx="270.06" cy="454.30" r="2.80" fill="#fff" stroke="#111111" stroke-width="1.15"/>
<circle cx="331.81" cy="499.60" r="2.80" fill="#fff" stroke="#111111" stroke-width="1.15"/>
<circle cx="358.40" cy="518.00" r="2.80" fill="#fff" stroke="#111111" stroke-width="1.15"/>
<polygon points="93.39,394.40 96.89,400.35 89.89,400.35" fill="#fff" stroke="#111111" stroke-width="1.15" stroke-linejoin="round"/>
<polygon points="155.14,402.50 158.64,408.45 151.64,408.45" fill="#fff" stroke="#111111" stroke-width="1.15" stroke-linejoin="round"/>
<polygon points="181.73,408.00 185.23,413.95 178.23,413.95" fill="#fff" stroke="#111111" stroke-width="1.15" stroke-linejoin="round"/>
<polygon points="243.47,425.80 246.97,431.75 239.97,431.75" fill="#fff" stroke="#111111" stroke-width="1.15" stroke-linejoin="round"/>
<polygon points="270.06,438.50 273.56,444.45 266.56,444.45" fill="#fff" stroke="#111111" stroke-width="1.15" stroke-linejoin="round"/>
<polygon points="331.81,478.80 335.31,484.75 328.31,484.75" fill="#fff" stroke="#111111" stroke-width="1.15" stroke-linejoin="round"/>
<polygon points="358.40,503.80 361.90,509.75 354.90,509.75" fill="#fff" stroke="#111111" stroke-width="1.15" stroke-linejoin="round"/>
<polygon points="181.73,602.30 182.61,604.69 185.15,604.79 183.15,606.36 183.84,608.81 181.73,607.40 179.61,608.81 180.30,606.36 178.30,604.79 180.85,604.69" fill="#d9141e"/>
<polygon points="243.47,472.40 244.35,474.79 246.90,474.89 244.90,476.46 245.59,478.91 243.47,477.50 241.36,478.91 242.05,476.46 240.05,474.89 242.59,474.79" fill="#d9141e"/>
<polygon points="270.06,409.90 270.95,412.29 273.49,412.39 271.49,413.96 272.18,416.41 270.06,415.00 267.95,416.41 268.64,413.96 266.64,412.39 269.18,412.29" fill="#d9141e"/>
<polygon points="331.81,389.40 332.69,391.79 335.23,391.89 333.23,393.46 333.92,395.91 331.81,394.50 329.69,395.91 330.38,393.46 328.38,391.89 330.93,391.79" fill="#d9141e"/>
<polygon points="358.40,384.90 359.28,387.29 361.82,387.39 359.83,388.96 360.52,391.41 358.40,390.00 356.28,391.41 356.97,388.96 354.98,387.39 357.52,387.29" fill="#d9141e"/>
<polygon points="93.39,605.10 96.99,608.70 93.39,612.30 89.79,608.70" fill="#fff" stroke="#d9141e" stroke-width="1.15"/>
<polygon points="155.14,594.90 158.74,598.50 155.14,602.10 151.54,598.50" fill="#fff" stroke="#d9141e" stroke-width="1.15"/>
<polygon points="181.73,577.90 185.33,581.50 181.73,585.10 178.13,581.50" fill="#fff" stroke="#d9141e" stroke-width="1.15"/>
<polygon points="243.47,497.80 247.07,501.40 243.47,505.00 239.87,501.40" fill="#fff" stroke="#d9141e" stroke-width="1.15"/>
<polygon points="270.06,456.50 273.66,460.10 270.06,463.70 266.46,460.10" fill="#fff" stroke="#d9141e" stroke-width="1.15"/>
<polygon points="331.81,389.00 335.41,392.60 331.81,396.20 328.21,392.60" fill="#fff" stroke="#d9141e" stroke-width="1.15"/>
<polygon points="358.40,371.70 362.00,375.30 358.40,378.90 354.80,375.30" fill="#fff" stroke="#d9141e" stroke-width="1.15"/>
<polygon points="155.14,618.10 152.28,616.45 152.28,613.15 155.14,611.50 157.99,613.15 157.99,616.45" fill="#fff" stroke="#d9141e" stroke-width="1.30" stroke-linejoin="round"/>
<polygon points="181.73,603.30 178.87,601.65 178.87,598.35 181.73,596.70 184.59,598.35 184.59,601.65" fill="#fff" stroke="#d9141e" stroke-width="1.30" stroke-linejoin="round"/>
<polygon points="243.47,479.20 240.61,477.55 240.61,474.25 243.47,472.60 246.33,474.25 246.33,477.55" fill="#fff" stroke="#d9141e" stroke-width="1.30" stroke-linejoin="round"/>
<polygon points="270.06,419.90 267.21,418.25 267.21,414.95 270.06,413.30 272.92,414.95 272.92,418.25" fill="#fff" stroke="#d9141e" stroke-width="1.30" stroke-linejoin="round"/>
<polygon points="331.81,407.10 328.95,405.45 328.95,402.15 331.81,400.50 334.67,402.15 334.67,405.45" fill="#fff" stroke="#d9141e" stroke-width="1.30" stroke-linejoin="round"/>
<polygon points="358.40,406.10 355.54,404.45 355.54,401.15 358.40,399.50 361.26,401.15 361.26,404.45" fill="#fff" stroke="#d9141e" stroke-width="1.30" stroke-linejoin="round"/>
<path d="M66.80 430.10H95.50" stroke="#111111" stroke-width="2.00"/>
<rect x="78.55" y="427.50" width="5.20" height="5.20" fill="#111111"/>
<text x="97.30" y="434.76" font-size="13.70" text-anchor="start" font-family="'Liberation Serif', serif" font-weight="normal">AZK20-L1(50 kPa)</text>
<path d="M66.80 443.70H95.50" stroke="#111111" stroke-width="2.00" stroke-dasharray="6 3.5"/>
<circle cx="81.15" cy="443.70" r="2.80" fill="#fff" stroke="#111111" stroke-width="1.15"/>
<text x="97.30" y="448.36" font-size="13.70" text-anchor="start" font-family="'Liberation Serif', serif" font-weight="normal">AZK20-L2(100 kPa)</text>
<path d="M66.80 457.30H95.50" stroke="#111111" stroke-width="2.00" stroke-dasharray="1.7 4"/>
<polygon points="81.15,453.80 84.65,459.75 77.65,459.75" fill="#fff" stroke="#111111" stroke-width="1.15" stroke-linejoin="round"/>
<text x="97.30" y="461.96" font-size="13.70" text-anchor="start" font-family="'Liberation Serif', serif" font-weight="normal">AZK20-L3(150 kPa)</text>
<path d="M66.80 470.90H95.50" stroke="#d9141e" stroke-width="2.00"/>
<polygon points="81.15,467.30 82.03,469.69 84.57,469.79 82.58,471.36 83.27,473.81 81.15,472.40 79.03,473.81 79.72,471.36 77.73,469.79 80.27,469.69" fill="#d9141e"/>
<text x="97.30" y="475.56" font-size="13.70" text-anchor="start" font-family="'Liberation Serif', serif" font-weight="normal">AZK20-L1(50 kPa)</text>
<path d="M66.80 484.50H95.50" stroke="#d9141e" stroke-width="2.00" stroke-dasharray="6 3.5"/>
<polygon points="81.15,480.90 84.75,484.50 81.15,488.10 77.55,484.50" fill="#fff" stroke="#d9141e" stroke-width="1.15"/>
<text x="97.30" y="489.16" font-size="13.70" text-anchor="start" font-family="'Liberation Serif', serif" font-weight="normal">AZK20-L2(100 kPa)</text>
<path d="M66.80 498.10H95.50" stroke="#d9141e" stroke-width="2.00" stroke-dasharray="1.7 4"/>
<polygon points="81.15,501.40 78.29,499.75 78.29,496.45 81.15,494.80 84.01,496.45 84.01,499.75" fill="#fff" stroke="#d9141e" stroke-width="1.30" stroke-linejoin="round"/>
<text x="97.30" y="502.76" font-size="13.70" text-anchor="start" font-family="'Liberation Serif', serif" font-weight="normal">AZK20-L3(150 kPa)</text>
<path d="M519.00 383.70V620.00" fill="none" stroke="#777777" stroke-width="1.30"/>
<path d="M810.60 362.50V620.00" fill="none" stroke="#111111" stroke-width="1.30"/>
<path d="M518.35 620.00H811.25" fill="none" stroke="#111111" stroke-width="1.30"/>
<path d="M519.00 598.20h3.80" stroke="#111111" stroke-width="1.30"/>
<text x="515.00" y="603.80" font-size="14.00" text-anchor="end" font-family="'Liberation Serif', serif" font-weight="normal">0</text>
<path d="M519.00 555.30h3.80" stroke="#111111" stroke-width="1.30"/>
<text x="515.00" y="560.90" font-size="14.00" text-anchor="end" font-family="'Liberation Serif', serif" font-weight="normal">0.2</text>
<path d="M519.00 512.40h3.80" stroke="#111111" stroke-width="1.30"/>
<text x="515.00" y="518.00" font-size="14.00" text-anchor="end" font-family="'Liberation Serif', serif" font-weight="normal">0.4</text>
<path d="M519.00 469.50h3.80" stroke="#111111" stroke-width="1.30"/>
<text x="515.00" y="475.10" font-size="14.00" text-anchor="end" font-family="'Liberation Serif', serif" font-weight="normal">0.6</text>
<path d="M519.00 426.60h3.80" stroke="#111111" stroke-width="1.30"/>
<text x="515.00" y="432.20" font-size="14.00" text-anchor="end" font-family="'Liberation Serif', serif" font-weight="normal">0.8</text>
<path d="M519.00 383.70h3.80" stroke="#111111" stroke-width="1.30"/>
<text x="515.00" y="389.30" font-size="14.00" text-anchor="end" font-family="'Liberation Serif', serif" font-weight="normal">1.0</text>
<path d="M810.60 620.00h-3.80" stroke="#111111" stroke-width="1.30"/>
<text x="814.60" y="625.60" font-size="14.00" text-anchor="start" font-family="'Liberation Serif', serif" font-weight="normal">0</text>
<path d="M810.60 555.62h-3.80" stroke="#111111" stroke-width="1.30"/>
<text x="814.60" y="561.23" font-size="14.00" text-anchor="start" font-family="'Liberation Serif', serif" font-weight="normal">0.05</text>
<path d="M810.60 491.25h-3.80" stroke="#111111" stroke-width="1.30"/>
<text x="814.60" y="496.85" font-size="14.00" text-anchor="start" font-family="'Liberation Serif', serif" font-weight="normal">0.10</text>
<path d="M810.60 426.88h-3.80" stroke="#111111" stroke-width="1.30"/>
<text x="814.60" y="432.48" font-size="14.00" text-anchor="start" font-family="'Liberation Serif', serif" font-weight="normal">0.15</text>
<path d="M810.60 362.50h-3.80" stroke="#111111" stroke-width="1.30"/>
<text x="814.60" y="368.10" font-size="14.00" text-anchor="start" font-family="'Liberation Serif', serif" font-weight="normal">0.20</text>
<path d="M519.00 620.00v-2.47" stroke="#111111" stroke-width="1.1"/>
<path d="M525.99 620.00v-2.47" stroke="#111111" stroke-width="1.1"/>
<path d="M531.91 620.00v-2.47" stroke="#111111" stroke-width="1.1"/>
<path d="M537.03 620.00v-2.47" stroke="#111111" stroke-width="1.1"/>
<path d="M541.55 620.00v-2.47" stroke="#111111" stroke-width="1.1"/>
<path d="M545.59 620.00v-4.75" stroke="#111111" stroke-width="1.1"/>
<path d="M572.18 620.00v-2.47" stroke="#111111" stroke-width="1.1"/>
<path d="M587.74 620.00v-2.47" stroke="#111111" stroke-width="1.1"/>
<path d="M598.78 620.00v-2.47" stroke="#111111" stroke-width="1.1"/>
<path d="M607.34 620.00v-2.47" stroke="#111111" stroke-width="1.1"/>
<path d="M614.33 620.00v-2.47" stroke="#111111" stroke-width="1.1"/>
<path d="M620.24 620.00v-2.47" stroke="#111111" stroke-width="1.1"/>
<path d="M625.37 620.00v-2.47" stroke="#111111" stroke-width="1.1"/>
<path d="M629.89 620.00v-2.47" stroke="#111111" stroke-width="1.1"/>
<path d="M633.93 620.00v-4.75" stroke="#111111" stroke-width="1.1"/>
<path d="M660.52 620.00v-2.47" stroke="#111111" stroke-width="1.1"/>
<path d="M676.07 620.00v-2.47" stroke="#111111" stroke-width="1.1"/>
<path d="M687.11 620.00v-2.47" stroke="#111111" stroke-width="1.1"/>
<path d="M695.67 620.00v-2.47" stroke="#111111" stroke-width="1.1"/>
<path d="M702.67 620.00v-2.47" stroke="#111111" stroke-width="1.1"/>
<path d="M708.58 620.00v-2.47" stroke="#111111" stroke-width="1.1"/>
<path d="M713.70 620.00v-2.47" stroke="#111111" stroke-width="1.1"/>
<path d="M718.22 620.00v-2.47" stroke="#111111" stroke-width="1.1"/>
<path d="M722.26 620.00v-4.75" stroke="#111111" stroke-width="1.1"/>
<path d="M748.86 620.00v-2.47" stroke="#111111" stroke-width="1.1"/>
<path d="M764.41 620.00v-2.47" stroke="#111111" stroke-width="1.1"/>
<path d="M775.45 620.00v-2.47" stroke="#111111" stroke-width="1.1"/>
<path d="M784.01 620.00v-2.47" stroke="#111111" stroke-width="1.1"/>
<path d="M791.00 620.00v-2.47" stroke="#111111" stroke-width="1.1"/>
<path d="M796.92 620.00v-2.47" stroke="#111111" stroke-width="1.1"/>
<path d="M802.04 620.00v-2.47" stroke="#111111" stroke-width="1.1"/>
<path d="M806.56 620.00v-2.47" stroke="#111111" stroke-width="1.1"/>
<path d="M810.60 620.00v-4.75" stroke="#111111" stroke-width="1.1"/>
<text x="547.30" y="638.50" font-size="14.00" text-anchor="middle" font-family="'Liberation Serif', serif">10<tspan font-size="10.5" dy="-4.9">&#8722;5</tspan></text>
<text x="631.20" y="638.50" font-size="14.00" text-anchor="middle" font-family="'Liberation Serif', serif">10<tspan font-size="10.5" dy="-4.9">&#8722;4</tspan></text>
<text x="725.90" y="638.50" font-size="14.00" text-anchor="middle" font-family="'Liberation Serif', serif" font-weight="normal">0.001</text>
<text x="811.20" y="638.50" font-size="14.00" text-anchor="middle" font-family="'Liberation Serif', serif" font-weight="normal">0.01</text>
<text transform="translate(489.08 496.80) rotate(-90)" font-size="14.40" text-anchor="middle" font-family="'Liberation Serif', 'Noto Serif CJK SC', serif">动剪切模量比<tspan font-style="italic" font-family="'Liberation Serif', serif">G/G</tspan><tspan font-size="10" dy="2.5">max</tspan></text>
<text transform="translate(845.86 485.70) scale(-1 1) rotate(-90)" font-size="14.00" text-anchor="middle" letter-spacing="1.3" font-family="'Liberation Serif', 'Noto Serif CJK SC', serif">阻尼比<tspan font-style="italic" font-family="'Liberation Serif', serif">λ</tspan></text>
<text x="678.90" y="661.69" font-size="14.70" text-anchor="middle" font-family="'Liberation Serif', 'Noto Serif CJK SC', serif">剪切应变<tspan font-style="italic" font-family="'Liberation Serif', serif">γ</tspan></text>
<text y="682.75" font-size="14.30" font-family="'Liberation Serif', 'Noto Serif CJK SC', serif" font-weight="600"><tspan x="549.30">（</tspan><tspan x="566.90" y="681.55" font-size="13" font-weight="bold">d</tspan><tspan x="575.30" y="682.75">）</tspan><tspan x="588.30" y="681.55" font-size="13" font-weight="bold">ASZK20</tspan><tspan y="682.75">点位动力特性参数示意图</tspan></text>
<path d="M545.59 385.10C566.17 386.07 586.75 386.06 607.34 388.00C616.20 388.84 625.06 394.06 633.93 399.00C639.49 402.09 645.04 407.74 650.60 412.20C657.40 417.66 664.20 423.00 671.00 428.80C679.22 435.82 687.45 442.14 695.67 451.00C700.18 455.86 704.69 463.32 709.20 468.40C713.55 473.30 717.91 477.07 722.26 481.50C732.34 491.76 742.42 503.74 752.50 512.90C763.00 522.44 773.51 531.62 784.01 538.30C792.87 543.94 801.74 547.70 810.60 552.40" fill="none" stroke="#111111" stroke-width="1.85"/>
<path d="M545.59 385.50C566.17 387.17 586.75 387.68 607.34 390.50C616.20 391.71 625.06 394.17 633.93 398.20C639.49 400.72 645.04 408.60 650.60 413.00C665.62 424.89 680.65 429.59 695.67 444.10C700.11 448.39 704.56 455.43 709.00 461.90C713.42 468.33 717.84 476.43 722.26 483.10C732.34 498.30 742.42 511.59 752.50 525.60C763.00 540.20 773.51 559.98 784.01 568.90C792.87 576.43 801.74 579.97 810.60 585.50" fill="none" stroke="#111111" stroke-width="1.85" stroke-dasharray="6 3.5"/>
<path d="M545.59 385.50C566.17 386.80 586.75 386.94 607.34 389.40C616.20 390.46 625.06 394.85 633.93 399.50C639.49 402.42 645.04 408.52 650.60 412.50C665.62 423.25 680.65 429.73 695.67 441.50C704.54 448.44 713.40 458.28 722.26 467.00C732.34 476.92 742.42 488.65 752.50 497.60C763.00 506.93 773.51 514.65 784.01 522.50C792.87 529.12 801.74 535.10 810.60 541.40" fill="none" stroke="#111111" stroke-width="1.85" stroke-dasharray="1.7 4"/>
<path d="M545.59 385.50C566.17 387.00 586.75 387.27 607.34 390.00C616.20 391.18 625.06 395.16 633.93 399.50C639.49 402.22 645.04 407.78 650.60 411.50C665.62 421.55 680.65 429.15 695.67 439.00C704.54 444.81 713.40 450.93 722.26 457.60C732.34 465.18 742.42 474.63 752.50 482.30C763.00 490.29 773.51 497.80 784.01 504.70C792.87 510.52 801.74 515.57 810.60 521.00" fill="none" stroke="#111111" stroke-width="1.85" stroke-dasharray="6 3 1.7 3"/>
<path d="M545.59 588.60C553.73 586.57 561.86 584.40 570.00 582.50C582.45 579.60 594.89 578.57 607.34 574.40C616.20 571.43 625.06 563.98 633.93 557.00C640.82 551.58 647.71 544.75 654.60 537.00C660.37 530.51 666.13 522.42 671.90 514.00C679.82 502.43 687.75 487.68 695.67 475.00C699.28 469.22 702.89 462.59 706.50 458.00C711.75 451.32 717.01 445.75 722.26 441.50C732.34 433.35 742.42 425.69 752.50 422.40C763.00 418.97 773.51 416.43 784.01 415.50C792.87 414.72 801.74 414.50 810.60 414.00" fill="none" stroke="#d9141e" stroke-width="1.85" stroke-dasharray="1.7 4"/>
<path d="M545.59 603.00C566.17 599.00 586.75 597.75 607.34 591.00C611.56 589.62 615.78 585.98 620.00 583.60C624.64 580.98 629.29 579.39 633.93 576.00C640.82 570.97 647.71 559.88 654.60 551.50C664.97 538.89 675.33 527.70 685.70 512.50C691.47 504.04 697.23 492.12 703.00 483.00C708.77 473.88 714.53 463.65 720.30 457.50C730.13 447.01 739.97 439.58 749.80 433.80C761.20 427.09 772.61 419.89 784.01 418.10C792.87 416.71 801.74 416.37 810.60 415.50" fill="none" stroke="#d9141e" stroke-width="1.85"/>
<path d="M545.59 591.00C557.06 587.63 568.53 585.49 580.00 580.90C589.11 577.25 598.22 573.99 607.34 564.40C611.56 559.96 615.78 541.41 620.00 532.50C624.64 522.70 629.29 515.38 633.93 507.30C642.62 492.18 651.31 476.93 660.00 464.00C665.37 456.01 670.73 447.84 676.10 442.00C682.62 434.90 689.15 428.58 695.67 424.50C704.54 418.95 713.40 414.16 722.26 412.00C732.34 409.55 742.42 408.50 752.50 407.10C763.00 405.65 773.51 404.41 784.01 403.30C792.87 402.37 801.74 401.63 810.60 400.80" fill="none" stroke="#d9141e" stroke-width="1.85" stroke-dasharray="6 3.5"/>
<path d="M545.59 585.00C566.17 583.33 586.75 583.74 607.34 580.00C611.56 579.23 615.78 571.03 620.00 568.80C624.64 566.35 629.29 566.10 633.93 563.60C640.82 559.89 647.71 549.57 654.60 541.10C660.37 534.01 666.13 526.29 671.90 516.90C679.82 504.00 687.75 482.26 695.67 469.60C699.28 463.83 702.89 459.57 706.50 454.60C711.75 447.36 717.01 437.94 722.26 433.00C727.38 428.19 732.49 425.72 737.60 422.00C742.57 418.39 747.53 413.85 752.50 411.00C763.00 404.97 773.51 399.14 784.01 396.90C792.87 395.01 801.74 394.37 810.60 393.10" fill="none" stroke="#d9141e" stroke-width="1.85" stroke-dasharray="6 3 1.7 3"/>
<rect x="542.99" y="382.50" width="5.20" height="5.20" fill="#111111"/>
<rect x="604.74" y="385.20" width="5.20" height="5.20" fill="#111111"/>
<rect x="631.33" y="396.40" width="5.20" height="5.20" fill="#111111"/>
<rect x="693.07" y="448.40" width="5.20" height="5.20" fill="#111111"/>
<rect x="719.66" y="478.40" width="5.20" height="5.20" fill="#111111"/>
<rect x="781.41" y="535.70" width="5.20" height="5.20" fill="#111111"/>
<rect x="808.00" y="551.50" width="5.20" height="5.20" fill="#111111"/>
<circle cx="545.59" cy="385.10" r="2.80" fill="#fff" stroke="#111111" stroke-width="1.15"/>
<circle cx="607.34" cy="391.00" r="2.80" fill="#fff" stroke="#111111" stroke-width="1.15"/>
<circle cx="633.93" cy="398.20" r="2.80" fill="#fff" stroke="#111111" stroke-width="1.15"/>
<circle cx="695.67" cy="444.10" r="2.80" fill="#fff" stroke="#111111" stroke-width="1.15"/>
<circle cx="722.26" cy="483.10" r="2.80" fill="#fff" stroke="#111111" stroke-width="1.15"/>
<circle cx="784.01" cy="568.90" r="2.80" fill="#fff" stroke="#111111" stroke-width="1.15"/>
<circle cx="810.60" cy="585.50" r="2.80" fill="#fff" stroke="#111111" stroke-width="1.15"/>
<polygon points="545.59,381.60 549.09,387.55 542.09,387.55" fill="#fff" stroke="#111111" stroke-width="1.15" stroke-linejoin="round"/>
<polygon points="607.34,385.90 610.84,391.85 603.84,391.85" fill="#fff" stroke="#111111" stroke-width="1.15" stroke-linejoin="round"/>
<polygon points="633.93,395.50 637.43,401.45 630.43,401.45" fill="#fff" stroke="#111111" stroke-width="1.15" stroke-linejoin="round"/>
<polygon points="695.67,438.00 699.17,443.95 692.17,443.95" fill="#fff" stroke="#111111" stroke-width="1.15" stroke-linejoin="round"/>
<polygon points="722.26,463.50 725.76,469.45 718.76,469.45" fill="#fff" stroke="#111111" stroke-width="1.15" stroke-linejoin="round"/>
<polygon points="784.01,519.00 787.51,524.95 780.51,524.95" fill="#fff" stroke="#111111" stroke-width="1.15" stroke-linejoin="round"/>
<polygon points="810.60,537.90 814.10,543.85 807.10,543.85" fill="#fff" stroke="#111111" stroke-width="1.15" stroke-linejoin="round"/>
<path d="M542.29 385.10H548.89M545.59 381.80V388.40" stroke="#111111" stroke-width="1.1" fill="none"/>
<path d="M604.04 390.00H610.64M607.34 386.70V393.30" stroke="#111111" stroke-width="1.1" fill="none"/>
<path d="M630.63 399.50H637.23M633.93 396.20V402.80" stroke="#111111" stroke-width="1.1" fill="none"/>
<path d="M692.37 439.00H698.97M695.67 435.70V442.30" stroke="#111111" stroke-width="1.1" fill="none"/>
<path d="M718.96 457.60H725.56M722.26 454.30V460.90" stroke="#111111" stroke-width="1.1" fill="none"/>
<path d="M780.71 504.70H787.31M784.01 501.40V508.00" stroke="#111111" stroke-width="1.1" fill="none"/>
<path d="M807.30 521.00H813.90M810.60 517.70V524.30" stroke="#111111" stroke-width="1.1" fill="none"/>
<polygon points="545.59,591.90 542.73,590.25 542.73,586.95 545.59,585.30 548.45,586.95 548.45,590.25" fill="#fff" stroke="#d9141e" stroke-width="1.30" stroke-linejoin="round"/>
<polygon points="607.34,577.70 604.48,576.05 604.48,572.75 607.34,571.10 610.19,572.75 610.19,576.05" fill="#fff" stroke="#d9141e" stroke-width="1.30" stroke-linejoin="round"/>
<polygon points="633.93,559.90 631.07,558.25 631.07,554.95 633.93,553.30 636.79,554.95 636.79,558.25" fill="#fff" stroke="#d9141e" stroke-width="1.30" stroke-linejoin="round"/>
<polygon points="695.67,477.90 692.81,476.25 692.81,472.95 695.67,471.30 698.53,472.95 698.53,476.25" fill="#fff" stroke="#d9141e" stroke-width="1.30" stroke-linejoin="round"/>
<polygon points="722.26,444.80 719.41,443.15 719.41,439.85 722.26,438.20 725.12,439.85 725.12,443.15" fill="#fff" stroke="#d9141e" stroke-width="1.30" stroke-linejoin="round"/>
<polygon points="784.01,418.80 781.15,417.15 781.15,413.85 784.01,412.20 786.87,413.85 786.87,417.15" fill="#fff" stroke="#d9141e" stroke-width="1.30" stroke-linejoin="round"/>
<polygon points="810.60,417.30 807.74,415.65 807.74,412.35 810.60,410.70 813.46,412.35 813.46,415.65" fill="#fff" stroke="#d9141e" stroke-width="1.30" stroke-linejoin="round"/>
<polygon points="545.59,599.40 546.47,601.79 549.02,601.89 547.02,603.46 547.71,605.91 545.59,604.50 543.48,605.91 544.17,603.46 542.17,601.89 544.71,601.79" fill="#d9141e"/>
<polygon points="607.34,587.80 608.22,590.19 610.76,590.29 608.76,591.86 609.45,594.31 607.34,592.90 605.22,594.31 605.91,591.86 603.91,590.29 606.45,590.19" fill="#d9141e"/>
<polygon points="633.93,575.60 634.81,577.99 637.35,578.09 635.35,579.66 636.04,582.11 633.93,580.70 631.81,582.11 632.50,579.66 630.50,578.09 633.05,577.99" fill="#d9141e"/>
<polygon points="695.67,502.90 696.55,505.29 699.10,505.39 697.10,506.96 697.79,509.41 695.67,508.00 693.56,509.41 694.25,506.96 692.25,505.39 694.79,505.29" fill="#d9141e"/>
<polygon points="784.01,413.70 784.89,416.09 787.43,416.19 785.43,417.76 786.12,420.21 784.01,418.80 781.89,420.21 782.58,417.76 780.58,416.19 783.13,416.09" fill="#d9141e"/>
<polygon points="810.60,412.40 811.48,414.79 814.02,414.89 812.03,416.46 812.72,418.91 810.60,417.50 808.48,418.91 809.17,416.46 807.18,414.89 809.72,414.79" fill="#d9141e"/>
<polygon points="545.59,589.40 549.19,593.00 545.59,596.60 541.99,593.00" fill="#fff" stroke="#d9141e" stroke-width="1.15"/>
<polygon points="607.34,560.80 610.94,564.40 607.34,568.00 603.74,564.40" fill="#fff" stroke="#d9141e" stroke-width="1.15"/>
<polygon points="633.93,503.70 637.53,507.30 633.93,510.90 630.33,507.30" fill="#fff" stroke="#d9141e" stroke-width="1.15"/>
<polygon points="695.67,420.90 699.27,424.50 695.67,428.10 692.07,424.50" fill="#fff" stroke="#d9141e" stroke-width="1.15"/>
<polygon points="722.26,407.90 725.86,411.50 722.26,415.10 718.66,411.50" fill="#fff" stroke="#d9141e" stroke-width="1.15"/>
<polygon points="784.01,399.70 787.61,403.30 784.01,406.90 780.41,403.30" fill="#fff" stroke="#d9141e" stroke-width="1.15"/>
<polygon points="810.60,397.20 814.20,400.80 810.60,404.40 807.00,400.80" fill="#fff" stroke="#d9141e" stroke-width="1.15"/>
<path d="M545.59 581.40L545.59 588.40M548.62 583.15L542.56 586.65M548.62 586.65L542.56 583.15" stroke="#d9141e" stroke-width="1.3" fill="none"/>
<path d="M607.34 577.40L607.34 584.40M610.37 579.15L604.30 582.65M610.37 582.65L604.30 579.15" stroke="#d9141e" stroke-width="1.3" fill="none"/>
<path d="M633.93 560.30L633.93 567.30M636.96 562.05L630.90 565.55M636.96 565.55L630.90 562.05" stroke="#d9141e" stroke-width="1.3" fill="none"/>
<path d="M695.67 466.10L695.67 473.10M698.70 467.85L692.64 471.35M698.70 471.35L692.64 467.85" stroke="#d9141e" stroke-width="1.3" fill="none"/>
<path d="M722.26 429.10L722.26 436.10M725.30 430.85L719.23 434.35M725.30 434.35L719.23 430.85" stroke="#d9141e" stroke-width="1.3" fill="none"/>
<path d="M784.01 393.40L784.01 400.40M787.04 395.15L780.98 398.65M787.04 398.65L780.98 395.15" stroke="#d9141e" stroke-width="1.3" fill="none"/>
<path d="M810.60 389.60L810.60 396.60M813.63 391.35L807.57 394.85M813.63 394.85L807.57 391.35" stroke="#d9141e" stroke-width="1.3" fill="none"/>
<path d="M519.00 415.50H543.80" stroke="#111111" stroke-width="1.85"/>
<rect x="529.06" y="413.16" width="4.68" height="4.68" fill="#111111"/>
<text x="545.10" y="419.48" font-size="11.70" text-anchor="start" font-family="'Liberation Serif', serif" font-weight="normal">AZK20-L1(50 kPa)</text>
<path d="M519.00 427.50H543.80" stroke="#111111" stroke-width="1.85" stroke-dasharray="6 3.5"/>
<circle cx="531.40" cy="427.50" r="2.52" fill="#fff" stroke="#111111" stroke-width="1.15"/>
<text x="545.10" y="431.48" font-size="11.70" text-anchor="start" font-family="'Liberation Serif', serif" font-weight="normal">AZK20-L2(100 kPa)</text>
<path d="M519.00 439.50H543.80" stroke="#111111" stroke-width="1.85" stroke-dasharray="1.7 4"/>
<polygon points="531.40,436.35 534.55,441.70 528.25,441.70" fill="#fff" stroke="#111111" stroke-width="1.15" stroke-linejoin="round"/>
<text x="545.10" y="443.48" font-size="11.70" text-anchor="start" font-family="'Liberation Serif', serif" font-weight="normal">AZK20-L3(130 kPa)</text>
<path d="M519.00 451.50H543.80" stroke="#111111" stroke-width="1.85" stroke-dasharray="6 3 1.7 3"/>
<path d="M528.43 451.50H534.37M531.40 448.53V454.47" stroke="#111111" stroke-width="1.1" fill="none"/>
<text x="545.10" y="455.48" font-size="11.70" text-anchor="start" font-family="'Liberation Serif', serif" font-weight="normal">AZK20-L4(150 kPa)</text>
<path d="M519.00 463.50H543.80" stroke="#d9141e" stroke-width="1.85" stroke-dasharray="1.7 4"/>
<polygon points="531.40,466.47 528.83,464.99 528.83,462.01 531.40,460.53 533.97,462.01 533.97,464.99" fill="#fff" stroke="#d9141e" stroke-width="1.30" stroke-linejoin="round"/>
<text x="545.10" y="467.48" font-size="11.70" text-anchor="start" font-family="'Liberation Serif', serif" font-weight="normal">AZK20-L1(50 kPa)</text>
<path d="M519.00 475.50H543.80" stroke="#d9141e" stroke-width="1.85"/>
<polygon points="531.40,472.26 532.19,474.41 534.48,474.50 532.68,475.92 533.30,478.12 531.40,476.85 529.50,478.12 530.12,475.92 528.32,474.50 530.61,474.41" fill="#d9141e"/>
<text x="545.10" y="479.48" font-size="11.70" text-anchor="start" font-family="'Liberation Serif', serif" font-weight="normal">AZK20-L2(100 kPa)</text>
<path d="M519.00 487.50H543.80" stroke="#d9141e" stroke-width="1.85" stroke-dasharray="6 3.5"/>
<polygon points="531.40,484.26 534.64,487.50 531.40,490.74 528.16,487.50" fill="#fff" stroke="#d9141e" stroke-width="1.15"/>
<text x="545.10" y="491.48" font-size="11.70" text-anchor="start" font-family="'Liberation Serif', serif" font-weight="normal">AZK20-L3(130 kPa)</text>
<path d="M519.00 499.50H543.80" stroke="#d9141e" stroke-width="1.85" stroke-dasharray="6 3 1.7 3"/>
<path d="M531.40 496.35L531.40 502.65M534.13 497.93L528.67 501.07M534.13 501.07L528.67 497.93" stroke="#d9141e" stroke-width="1.3" fill="none"/>
<text x="545.10" y="503.48" font-size="11.70" text-anchor="start" font-family="'Liberation Serif', serif" font-weight="normal">AZK20-L4(150 kPa)</text>
<path d="M66.80 722.10V952.10" fill="none" stroke="#777777" stroke-width="1.30"/>
<path d="M358.40 695.60V952.10" fill="none" stroke="#111111" stroke-width="1.30"/>
<path d="M66.15 952.10H359.05" fill="none" stroke="#111111" stroke-width="1.30"/>
<path d="M66.80 925.60h3.80" stroke="#111111" stroke-width="1.30"/>
<text x="63.80" y="930.20" font-size="14.00" text-anchor="end" font-family="'Liberation Serif', serif" font-weight="normal">0.2</text>
<path d="M66.80 874.73h3.80" stroke="#111111" stroke-width="1.30"/>
<text x="63.80" y="879.33" font-size="14.00" text-anchor="end" font-family="'Liberation Serif', serif" font-weight="normal">0.4</text>
<path d="M66.80 823.85h3.80" stroke="#111111" stroke-width="1.30"/>
<text x="63.80" y="828.45" font-size="14.00" text-anchor="end" font-family="'Liberation Serif', serif" font-weight="normal">0.6</text>
<path d="M66.80 772.98h3.80" stroke="#111111" stroke-width="1.30"/>
<text x="63.80" y="777.58" font-size="14.00" text-anchor="end" font-family="'Liberation Serif', serif" font-weight="normal">0.8</text>
<path d="M66.80 722.10h3.80" stroke="#111111" stroke-width="1.30"/>
<text x="63.80" y="726.70" font-size="14.00" text-anchor="end" font-family="'Liberation Serif', serif" font-weight="normal">1.0</text>
<path d="M358.40 952.10h-3.80" stroke="#111111" stroke-width="1.30"/>
<text x="362.00" y="957.70" font-size="14.00" text-anchor="start" font-family="'Liberation Serif', serif" font-weight="normal">0</text>
<path d="M358.40 887.98h-3.80" stroke="#111111" stroke-width="1.30"/>
<text x="362.00" y="893.58" font-size="14.00" text-anchor="start" font-family="'Liberation Serif', serif" font-weight="normal">0.05</text>
<path d="M358.40 823.85h-3.80" stroke="#111111" stroke-width="1.30"/>
<text x="362.00" y="829.45" font-size="14.00" text-anchor="start" font-family="'Liberation Serif', serif" font-weight="normal">0.10</text>
<path d="M358.40 759.73h-3.80" stroke="#111111" stroke-width="1.30"/>
<text x="362.00" y="765.33" font-size="14.00" text-anchor="start" font-family="'Liberation Serif', serif" font-weight="normal">0.15</text>
<path d="M358.40 695.60h-3.80" stroke="#111111" stroke-width="1.30"/>
<text x="362.00" y="701.20" font-size="14.00" text-anchor="start" font-family="'Liberation Serif', serif" font-weight="normal">0.20</text>
<path d="M66.80 952.10v-2.47" stroke="#111111" stroke-width="1.1"/>
<path d="M73.79 952.10v-2.47" stroke="#111111" stroke-width="1.1"/>
<path d="M79.71 952.10v-2.47" stroke="#111111" stroke-width="1.1"/>
<path d="M84.83 952.10v-2.47" stroke="#111111" stroke-width="1.1"/>
<path d="M89.35 952.10v-2.47" stroke="#111111" stroke-width="1.1"/>
<path d="M93.39 952.10v-4.75" stroke="#111111" stroke-width="1.1"/>
<path d="M119.98 952.10v-2.47" stroke="#111111" stroke-width="1.1"/>
<path d="M135.54 952.10v-2.47" stroke="#111111" stroke-width="1.1"/>
<path d="M146.58 952.10v-2.47" stroke="#111111" stroke-width="1.1"/>
<path d="M155.14 952.10v-2.47" stroke="#111111" stroke-width="1.1"/>
<path d="M162.13 952.10v-2.47" stroke="#111111" stroke-width="1.1"/>
<path d="M168.04 952.10v-2.47" stroke="#111111" stroke-width="1.1"/>
<path d="M173.17 952.10v-2.47" stroke="#111111" stroke-width="1.1"/>
<path d="M177.69 952.10v-2.47" stroke="#111111" stroke-width="1.1"/>
<path d="M181.73 952.10v-4.75" stroke="#111111" stroke-width="1.1"/>
<path d="M208.32 952.10v-2.47" stroke="#111111" stroke-width="1.1"/>
<path d="M223.87 952.10v-2.47" stroke="#111111" stroke-width="1.1"/>
<path d="M234.91 952.10v-2.47" stroke="#111111" stroke-width="1.1"/>
<path d="M243.47 952.10v-2.47" stroke="#111111" stroke-width="1.1"/>
<path d="M250.47 952.10v-2.47" stroke="#111111" stroke-width="1.1"/>
<path d="M256.38 952.10v-2.47" stroke="#111111" stroke-width="1.1"/>
<path d="M261.50 952.10v-2.47" stroke="#111111" stroke-width="1.1"/>
<path d="M266.02 952.10v-2.47" stroke="#111111" stroke-width="1.1"/>
<path d="M270.06 952.10v-4.75" stroke="#111111" stroke-width="1.1"/>
<path d="M296.66 952.10v-2.47" stroke="#111111" stroke-width="1.1"/>
<path d="M312.21 952.10v-2.47" stroke="#111111" stroke-width="1.1"/>
<path d="M323.25 952.10v-2.47" stroke="#111111" stroke-width="1.1"/>
<path d="M331.81 952.10v-2.47" stroke="#111111" stroke-width="1.1"/>
<path d="M338.80 952.10v-2.47" stroke="#111111" stroke-width="1.1"/>
<path d="M344.72 952.10v-2.47" stroke="#111111" stroke-width="1.1"/>
<path d="M349.84 952.10v-2.47" stroke="#111111" stroke-width="1.1"/>
<path d="M354.36 952.10v-2.47" stroke="#111111" stroke-width="1.1"/>
<path d="M358.40 952.10v-4.75" stroke="#111111" stroke-width="1.1"/>
<text x="93.40" y="972.90" font-size="14.00" text-anchor="middle" font-family="'Liberation Serif', serif">10<tspan font-size="10.5" dy="-4.9">&#8722;5</tspan></text>
<text x="177.20" y="972.90" font-size="14.00" text-anchor="middle" font-family="'Liberation Serif', serif">10<tspan font-size="10.5" dy="-4.9">&#8722;4</tspan></text>
<text x="272.30" y="972.90" font-size="14.00" text-anchor="middle" font-family="'Liberation Serif', serif" font-weight="normal">0.001</text>
<text x="358.00" y="972.90" font-size="14.00" text-anchor="middle" font-family="'Liberation Serif', serif" font-weight="normal">0.01</text>
<text transform="translate(40.88 831.70) rotate(-90)" font-size="14.40" text-anchor="middle" font-family="'Liberation Serif', 'Noto Serif CJK SC', serif">动剪切模量比<tspan font-style="italic" font-family="'Liberation Serif', serif">G/G</tspan><tspan font-size="10" dy="2.5">max</tspan></text>
<text transform="translate(394.06 822.10) scale(-1 1) rotate(-90)" font-size="14.00" text-anchor="middle" letter-spacing="1.3" font-family="'Liberation Serif', 'Noto Serif CJK SC', serif">阻尼比<tspan font-style="italic" font-family="'Liberation Serif', serif">λ</tspan></text>
<text x="226.40" y="998.29" font-size="14.70" text-anchor="middle" font-family="'Liberation Serif', 'Noto Serif CJK SC', serif">剪切应变<tspan font-style="italic" font-family="'Liberation Serif', serif">γ</tspan></text>
<text y="1020.05" font-size="14.30" font-family="'Liberation Serif', 'Noto Serif CJK SC', serif" font-weight="600"><tspan x="94.70">（</tspan><tspan x="112.30" y="1018.85" font-size="13" font-weight="bold">e</tspan><tspan x="120.70" y="1020.05">）</tspan><tspan x="133.70" y="1018.85" font-size="13" font-weight="bold">SZK38</tspan><tspan y="1020.05">点位动力特性参数示意图</tspan></text>
<path d="M93.39 721.80C113.97 723.57 134.55 723.98 155.14 727.10C164.00 728.44 172.86 731.57 181.73 736.80C186.09 739.37 190.44 747.69 194.80 752.00C200.90 758.03 207.00 761.95 213.10 767.50C219.20 773.05 225.30 779.21 231.40 785.50C235.42 789.65 239.45 793.85 243.47 798.50C252.34 808.75 261.20 821.66 270.06 832.50C280.04 844.70 290.02 856.93 300.00 867.50C310.60 878.73 321.21 889.00 331.81 898.25C340.67 905.98 349.54 912.42 358.40 919.50" fill="none" stroke="#111111" stroke-width="2.00"/>
<path d="M93.39 722.00C113.97 725.00 134.55 726.33 155.14 731.00C164.00 733.01 172.86 737.03 181.73 741.50C189.49 745.41 197.24 752.43 205.00 757.50C217.82 765.88 230.65 772.25 243.47 781.25C252.34 787.47 261.20 795.26 270.06 802.50C280.04 810.65 290.02 819.34 300.00 827.50C310.60 836.18 321.21 844.89 331.81 853.00C340.67 859.78 349.54 866.00 358.40 872.50" fill="none" stroke="#111111" stroke-width="2.00" stroke-dasharray="6 3.5"/>
<path d="M93.39 728.10C113.97 731.50 134.55 733.94 155.14 738.30C164.00 740.18 172.86 742.42 181.73 745.50C202.31 752.65 222.89 766.83 243.47 779.50C252.34 784.96 261.20 790.89 270.06 797.50C280.04 804.95 290.02 814.42 300.00 822.50C310.60 831.09 321.21 839.10 331.81 847.50C340.67 854.53 349.54 861.67 358.40 868.75" fill="none" stroke="#111111" stroke-width="2.00" stroke-dasharray="1.7 4"/>
<path d="M93.39 899.00C113.97 897.27 134.55 896.88 155.14 893.80C158.42 893.31 161.71 892.15 165.00 891.00C167.63 890.08 170.27 889.10 172.90 887.50C175.33 886.02 177.77 883.12 180.20 880.50C182.63 877.88 185.07 874.63 187.50 871.50C189.93 868.37 192.37 865.02 194.80 861.70C200.90 853.37 207.00 844.30 213.10 836.10C219.20 827.90 225.30 820.04 231.40 812.40C235.42 807.36 239.45 803.09 243.47 797.70C247.98 791.66 252.49 782.75 257.00 777.50C261.35 772.43 265.71 768.34 270.06 765.00C275.04 761.18 280.02 757.68 285.00 755.50C290.00 753.31 295.00 751.62 300.00 750.50C310.60 748.13 321.21 746.74 331.81 745.50C340.67 744.46 349.54 743.83 358.40 743.00" fill="none" stroke="#d9141e" stroke-width="2.00"/>
<path d="M93.39 905.30C113.97 903.37 134.55 903.31 155.14 899.50C158.42 898.89 161.71 897.10 165.00 895.00C167.63 893.32 170.27 889.52 172.90 887.00C175.84 884.18 178.79 882.76 181.73 879.00C183.65 876.54 185.58 870.85 187.50 867.50C189.93 863.26 192.37 860.10 194.80 856.30C200.90 846.77 207.00 836.77 213.10 827.00C219.20 817.23 225.30 807.67 231.40 797.70C235.42 791.12 239.45 782.78 243.47 777.60C247.98 771.79 252.49 767.59 257.00 763.50C261.35 759.55 265.71 755.56 270.06 753.00C280.04 747.14 290.02 742.48 300.00 740.00C310.60 737.37 321.21 735.78 331.81 734.50C340.67 733.43 349.54 732.83 358.40 732.00" fill="none" stroke="#d9141e" stroke-width="2.00" stroke-dasharray="6 3.5"/>
<path d="M93.39 921.70C113.97 917.10 134.55 914.38 155.14 907.90C164.00 905.11 172.86 901.32 181.73 895.70C189.49 890.79 197.24 878.60 205.00 872.50C217.82 862.41 230.65 859.07 243.47 848.25C252.34 840.77 261.20 826.58 270.06 816.25C280.04 804.63 290.02 791.31 300.00 782.50C310.60 773.14 321.21 765.35 331.81 759.50C340.67 754.61 349.54 751.50 358.40 747.50" fill="none" stroke="#d9141e" stroke-width="2.00" stroke-dasharray="1.7 4"/>
<rect x="90.79" y="719.20" width="5.20" height="5.20" fill="#111111"/>
<rect x="152.54" y="724.50" width="5.20" height="5.20" fill="#111111"/>
<rect x="179.13" y="733.80" width="5.20" height="5.20" fill="#111111"/>
<rect x="240.87" y="796.15" width="5.20" height="5.20" fill="#111111"/>
<rect x="267.46" y="829.90" width="5.20" height="5.20" fill="#111111"/>
<rect x="329.21" y="895.65" width="5.20" height="5.20" fill="#111111"/>
<rect x="355.80" y="916.90" width="5.20" height="5.20" fill="#111111"/>
<circle cx="93.39" cy="721.70" r="2.80" fill="#fff" stroke="#111111" stroke-width="1.15"/>
<circle cx="155.14" cy="732.50" r="2.80" fill="#fff" stroke="#111111" stroke-width="1.15"/>
<circle cx="181.73" cy="742.60" r="2.80" fill="#fff" stroke="#111111" stroke-width="1.15"/>
<circle cx="243.47" cy="781.25" r="2.80" fill="#fff" stroke="#111111" stroke-width="1.15"/>
<circle cx="270.06" cy="803.25" r="2.80" fill="#fff" stroke="#111111" stroke-width="1.15"/>
<circle cx="331.81" cy="854.50" r="2.80" fill="#fff" stroke="#111111" stroke-width="1.15"/>
<circle cx="358.40" cy="873.25" r="2.80" fill="#fff" stroke="#111111" stroke-width="1.15"/>
<polygon points="93.39,724.60 96.89,730.55 89.89,730.55" fill="#fff" stroke="#111111" stroke-width="1.15" stroke-linejoin="round"/>
<polygon points="155.14,734.80 158.64,740.75 151.64,740.75" fill="#fff" stroke="#111111" stroke-width="1.15" stroke-linejoin="round"/>
<polygon points="181.73,743.00 185.23,748.95 178.23,748.95" fill="#fff" stroke="#111111" stroke-width="1.15" stroke-linejoin="round"/>
<polygon points="243.47,776.00 246.97,781.95 239.97,781.95" fill="#fff" stroke="#111111" stroke-width="1.15" stroke-linejoin="round"/>
<polygon points="270.06,793.50 273.56,799.45 266.56,799.45" fill="#fff" stroke="#111111" stroke-width="1.15" stroke-linejoin="round"/>
<polygon points="331.81,844.00 335.31,849.95 328.31,849.95" fill="#fff" stroke="#111111" stroke-width="1.15" stroke-linejoin="round"/>
<polygon points="358.40,866.50 361.90,872.45 354.90,872.45" fill="#fff" stroke="#111111" stroke-width="1.15" stroke-linejoin="round"/>
<polygon points="93.39,895.60 94.27,897.99 96.82,898.09 94.82,899.66 95.51,902.11 93.39,900.70 91.28,902.11 91.97,899.66 89.97,898.09 92.51,897.99" fill="#d9141e"/>
<polygon points="155.14,891.00 156.02,893.39 158.56,893.49 156.56,895.06 157.25,897.51 155.14,896.10 153.02,897.51 153.71,895.06 151.71,893.49 154.25,893.39" fill="#d9141e"/>
<polygon points="181.73,881.90 182.61,884.29 185.15,884.39 183.15,885.96 183.84,888.41 181.73,887.00 179.61,888.41 180.30,885.96 178.30,884.39 180.85,884.29" fill="#d9141e"/>
<polygon points="243.47,790.15 244.35,792.54 246.90,792.64 244.90,794.21 245.59,796.66 243.47,795.25 241.36,796.66 242.05,794.21 240.05,792.64 242.59,792.54" fill="#d9141e"/>
<polygon points="270.06,752.65 270.95,755.04 273.49,755.14 271.49,756.71 272.18,759.16 270.06,757.75 267.95,759.16 268.64,756.71 266.64,755.14 269.18,755.04" fill="#d9141e"/>
<polygon points="331.81,741.90 332.69,744.29 335.23,744.39 333.23,745.96 333.92,748.41 331.81,747.00 329.69,748.41 330.38,745.96 328.38,744.39 330.93,744.29" fill="#d9141e"/>
<polygon points="358.40,739.40 359.28,741.79 361.82,741.89 359.83,743.46 360.52,745.91 358.40,744.50 356.28,745.91 356.97,743.46 354.98,741.89 357.52,741.79" fill="#d9141e"/>
<polygon points="93.39,901.70 96.99,905.30 93.39,908.90 89.79,905.30" fill="#fff" stroke="#d9141e" stroke-width="1.15"/>
<polygon points="155.14,896.70 158.74,900.30 155.14,903.90 151.54,900.30" fill="#fff" stroke="#d9141e" stroke-width="1.15"/>
<polygon points="181.73,878.80 185.33,882.40 181.73,886.00 178.13,882.40" fill="#fff" stroke="#d9141e" stroke-width="1.15"/>
<polygon points="243.47,772.65 247.07,776.25 243.47,779.85 239.87,776.25" fill="#fff" stroke="#d9141e" stroke-width="1.15"/>
<polygon points="270.06,748.40 273.66,752.00 270.06,755.60 266.46,752.00" fill="#fff" stroke="#d9141e" stroke-width="1.15"/>
<polygon points="331.81,730.90 335.41,734.50 331.81,738.10 328.21,734.50" fill="#fff" stroke="#d9141e" stroke-width="1.15"/>
<polygon points="358.40,728.40 362.00,732.00 358.40,735.60 354.80,732.00" fill="#fff" stroke="#d9141e" stroke-width="1.15"/>
<polygon points="93.39,925.00 90.53,923.35 90.53,920.05 93.39,918.40 96.25,920.05 96.25,923.35" fill="#fff" stroke="#d9141e" stroke-width="1.30" stroke-linejoin="round"/>
<polygon points="155.14,911.20 152.28,909.55 152.28,906.25 155.14,904.60 157.99,906.25 157.99,909.55" fill="#fff" stroke="#d9141e" stroke-width="1.30" stroke-linejoin="round"/>
<polygon points="181.73,899.00 178.87,897.35 178.87,894.05 181.73,892.40 184.59,894.05 184.59,897.35" fill="#fff" stroke="#d9141e" stroke-width="1.30" stroke-linejoin="round"/>
<polygon points="243.47,851.55 240.61,849.90 240.61,846.60 243.47,844.95 246.33,846.60 246.33,849.90" fill="#fff" stroke="#d9141e" stroke-width="1.30" stroke-linejoin="round"/>
<polygon points="270.06,819.55 267.21,817.90 267.21,814.60 270.06,812.95 272.92,814.60 272.92,817.90" fill="#fff" stroke="#d9141e" stroke-width="1.30" stroke-linejoin="round"/>
<polygon points="331.81,762.80 328.95,761.15 328.95,757.85 331.81,756.20 334.67,757.85 334.67,761.15" fill="#fff" stroke="#d9141e" stroke-width="1.30" stroke-linejoin="round"/>
<polygon points="358.40,750.80 355.54,749.15 355.54,745.85 358.40,744.20 361.26,745.85 361.26,749.15" fill="#fff" stroke="#d9141e" stroke-width="1.30" stroke-linejoin="round"/>
<path d="M66.80 757.70H93.00" stroke="#111111" stroke-width="2.00"/>
<rect x="77.30" y="755.10" width="5.20" height="5.20" fill="#111111"/>
<text x="93.90" y="762.36" font-size="13.70" text-anchor="start" font-family="'Liberation Serif', serif" font-weight="normal">SZK20-L1(50 kPa)</text>
<path d="M66.80 771.15H93.00" stroke="#111111" stroke-width="2.00" stroke-dasharray="6 3.5"/>
<circle cx="79.90" cy="771.15" r="2.80" fill="#fff" stroke="#111111" stroke-width="1.15"/>
<text x="93.90" y="775.81" font-size="13.70" text-anchor="start" font-family="'Liberation Serif', serif" font-weight="normal">SZK20-L2(100 kPa)</text>
<path d="M66.80 784.60H93.00" stroke="#111111" stroke-width="2.00" stroke-dasharray="1.7 4"/>
<polygon points="79.90,781.10 83.40,787.05 76.40,787.05" fill="#fff" stroke="#111111" stroke-width="1.15" stroke-linejoin="round"/>
<text x="93.90" y="789.26" font-size="13.70" text-anchor="start" font-family="'Liberation Serif', serif" font-weight="normal">SZK20-L3(150 kPa)</text>
<path d="M66.80 798.05H93.00" stroke="#d9141e" stroke-width="2.00"/>
<polygon points="79.90,794.45 80.78,796.84 83.32,796.94 81.33,798.51 82.02,800.96 79.90,799.55 77.78,800.96 78.47,798.51 76.48,796.94 79.02,796.84" fill="#d9141e"/>
<text x="93.90" y="802.71" font-size="13.70" text-anchor="start" font-family="'Liberation Serif', serif" font-weight="normal">SZK20-L1(50 kPa)</text>
<path d="M66.80 811.50H93.00" stroke="#d9141e" stroke-width="2.00" stroke-dasharray="6 3.5"/>
<polygon points="79.90,807.90 83.50,811.50 79.90,815.10 76.30,811.50" fill="#fff" stroke="#d9141e" stroke-width="1.15"/>
<text x="93.90" y="816.16" font-size="13.70" text-anchor="start" font-family="'Liberation Serif', serif" font-weight="normal">SZK20-L2(100 kPa)</text>
<path d="M66.80 824.95H93.00" stroke="#d9141e" stroke-width="2.00" stroke-dasharray="1.7 4"/>
<polygon points="79.90,828.25 77.04,826.60 77.04,823.30 79.90,821.65 82.76,823.30 82.76,826.60" fill="#fff" stroke="#d9141e" stroke-width="1.30" stroke-linejoin="round"/>
<text x="93.90" y="829.61" font-size="13.70" text-anchor="start" font-family="'Liberation Serif', serif" font-weight="normal">SZK20-L3(150 kPa)</text>
<path d="M519.00 720.50V952.50" fill="none" stroke="#111111" stroke-width="1.30"/>
<path d="M809.50 695.60V952.50" fill="none" stroke="#111111" stroke-width="1.30"/>
<path d="M518.35 952.50H810.15" fill="none" stroke="#111111" stroke-width="1.30"/>
<path d="M519.00 953.00h3.80" stroke="#111111" stroke-width="1.30"/>
<text x="516.30" y="958.60" font-size="14.00" text-anchor="end" font-family="'Liberation Serif', serif" font-weight="normal">0</text>
<path d="M519.00 906.54h3.80" stroke="#111111" stroke-width="1.30"/>
<text x="516.30" y="912.14" font-size="14.00" text-anchor="end" font-family="'Liberation Serif', serif" font-weight="normal">0.2</text>
<path d="M519.00 860.08h3.80" stroke="#111111" stroke-width="1.30"/>
<text x="516.30" y="865.68" font-size="14.00" text-anchor="end" font-family="'Liberation Serif', serif" font-weight="normal">0.4</text>
<path d="M519.00 813.62h3.80" stroke="#111111" stroke-width="1.30"/>
<text x="516.30" y="819.22" font-size="14.00" text-anchor="end" font-family="'Liberation Serif', serif" font-weight="normal">0.6</text>
<path d="M519.00 767.16h3.80" stroke="#111111" stroke-width="1.30"/>
<text x="516.30" y="772.76" font-size="14.00" text-anchor="end" font-family="'Liberation Serif', serif" font-weight="normal">0.8</text>
<path d="M519.00 720.70h3.80" stroke="#111111" stroke-width="1.30"/>
<text x="516.30" y="726.30" font-size="14.00" text-anchor="end" font-family="'Liberation Serif', serif" font-weight="normal">1.0</text>
<path d="M809.50 953.00h-3.80" stroke="#111111" stroke-width="1.30"/>
<text x="812.90" y="958.60" font-size="14.00" text-anchor="start" font-family="'Liberation Serif', serif" font-weight="normal">0</text>
<path d="M809.50 901.52h-3.80" stroke="#111111" stroke-width="1.30"/>
<text x="812.90" y="907.12" font-size="14.00" text-anchor="start" font-family="'Liberation Serif', serif" font-weight="normal">0.05</text>
<path d="M809.50 850.04h-3.80" stroke="#111111" stroke-width="1.30"/>
<text x="812.90" y="855.64" font-size="14.00" text-anchor="start" font-family="'Liberation Serif', serif" font-weight="normal">0.10</text>
<path d="M809.50 798.56h-3.80" stroke="#111111" stroke-width="1.30"/>
<text x="812.90" y="804.16" font-size="14.00" text-anchor="start" font-family="'Liberation Serif', serif" font-weight="normal">0.15</text>
<path d="M809.50 747.08h-3.80" stroke="#111111" stroke-width="1.30"/>
<text x="812.90" y="752.68" font-size="14.00" text-anchor="start" font-family="'Liberation Serif', serif" font-weight="normal">0.20</text>
<path d="M809.50 695.60h-3.80" stroke="#111111" stroke-width="1.30"/>
<text x="812.90" y="701.20" font-size="14.00" text-anchor="start" font-family="'Liberation Serif', serif" font-weight="normal">0.25</text>
<path d="M519.00 952.50v-2.47" stroke="#111111" stroke-width="1.1"/>
<path d="M525.97 952.50v-2.47" stroke="#111111" stroke-width="1.1"/>
<path d="M531.86 952.50v-2.47" stroke="#111111" stroke-width="1.1"/>
<path d="M536.96 952.50v-2.47" stroke="#111111" stroke-width="1.1"/>
<path d="M541.46 952.50v-2.47" stroke="#111111" stroke-width="1.1"/>
<path d="M545.49 952.50v-4.75" stroke="#111111" stroke-width="1.1"/>
<path d="M571.98 952.50v-2.47" stroke="#111111" stroke-width="1.1"/>
<path d="M587.48 952.50v-2.47" stroke="#111111" stroke-width="1.1"/>
<path d="M598.47 952.50v-2.47" stroke="#111111" stroke-width="1.1"/>
<path d="M607.00 952.50v-2.47" stroke="#111111" stroke-width="1.1"/>
<path d="M613.97 952.50v-2.47" stroke="#111111" stroke-width="1.1"/>
<path d="M619.86 952.50v-2.47" stroke="#111111" stroke-width="1.1"/>
<path d="M624.97 952.50v-2.47" stroke="#111111" stroke-width="1.1"/>
<path d="M629.47 952.50v-2.47" stroke="#111111" stroke-width="1.1"/>
<path d="M633.49 952.50v-4.75" stroke="#111111" stroke-width="1.1"/>
<path d="M659.99 952.50v-2.47" stroke="#111111" stroke-width="1.1"/>
<path d="M675.48 952.50v-2.47" stroke="#111111" stroke-width="1.1"/>
<path d="M686.48 952.50v-2.47" stroke="#111111" stroke-width="1.1"/>
<path d="M695.01 952.50v-2.47" stroke="#111111" stroke-width="1.1"/>
<path d="M701.97 952.50v-2.47" stroke="#111111" stroke-width="1.1"/>
<path d="M707.87 952.50v-2.47" stroke="#111111" stroke-width="1.1"/>
<path d="M712.97 952.50v-2.47" stroke="#111111" stroke-width="1.1"/>
<path d="M717.47 952.50v-2.47" stroke="#111111" stroke-width="1.1"/>
<path d="M721.50 952.50v-4.75" stroke="#111111" stroke-width="1.1"/>
<path d="M747.99 952.50v-2.47" stroke="#111111" stroke-width="1.1"/>
<path d="M763.49 952.50v-2.47" stroke="#111111" stroke-width="1.1"/>
<path d="M774.48 952.50v-2.47" stroke="#111111" stroke-width="1.1"/>
<path d="M783.01 952.50v-2.47" stroke="#111111" stroke-width="1.1"/>
<path d="M789.98 952.50v-2.47" stroke="#111111" stroke-width="1.1"/>
<path d="M795.87 952.50v-2.47" stroke="#111111" stroke-width="1.1"/>
<path d="M800.97 952.50v-2.47" stroke="#111111" stroke-width="1.1"/>
<path d="M805.47 952.50v-2.47" stroke="#111111" stroke-width="1.1"/>
<path d="M809.50 952.50v-4.75" stroke="#111111" stroke-width="1.1"/>
<text x="546.60" y="972.20" font-size="14.00" text-anchor="middle" font-family="'Liberation Serif', serif">10<tspan font-size="10.5" dy="-4.9">&#8722;5</tspan></text>
<text x="629.90" y="972.20" font-size="14.00" text-anchor="middle" font-family="'Liberation Serif', serif">10<tspan font-size="10.5" dy="-4.9">&#8722;4</tspan></text>
<text x="724.70" y="972.20" font-size="14.00" text-anchor="middle" font-family="'Liberation Serif', serif" font-weight="normal">0.001</text>
<text x="810.70" y="972.20" font-size="14.00" text-anchor="middle" font-family="'Liberation Serif', serif" font-weight="normal">0.01</text>
<text transform="translate(491.58 841.00) rotate(-90)" font-size="14.40" text-anchor="middle" font-family="'Liberation Serif', 'Noto Serif CJK SC', serif">动剪切模量比<tspan font-style="italic" font-family="'Liberation Serif', serif">G/G</tspan><tspan font-size="10" dy="2.5">max</tspan></text>
<text transform="translate(840.86 798.30) scale(-1 1) rotate(-90)" font-size="14.00" text-anchor="middle" letter-spacing="1.3" font-family="'Liberation Serif', 'Noto Serif CJK SC', serif">阻尼比<tspan font-style="italic" font-family="'Liberation Serif', serif">λ</tspan></text>
<text x="678.60" y="997.19" font-size="14.70" text-anchor="middle" font-family="'Liberation Serif', 'Noto Serif CJK SC', serif">剪切应变<tspan font-style="italic" font-family="'Liberation Serif', serif">γ</tspan></text>
<text y="1020.05" font-size="14.30" font-family="'Liberation Serif', 'Noto Serif CJK SC', serif" font-weight="600"><tspan x="547.40">（</tspan><tspan x="565.00" y="1018.85" font-size="13" font-weight="bold">f</tspan><tspan x="573.40" y="1020.05">）</tspan><tspan x="586.40" y="1018.85" font-size="13" font-weight="bold">ASZK38</tspan><tspan y="1020.05">点位动力特性参数示意图</tspan></text>
<path d="M545.49 722.00C566.00 725.33 586.50 726.63 607.00 732.00C615.83 734.31 624.66 740.01 633.49 745.00C644.00 750.94 654.50 759.21 665.00 766.25C675.00 772.96 685.00 778.76 695.01 786.25C703.84 792.86 712.67 801.09 721.50 808.75C731.83 817.71 742.17 827.68 752.50 836.25C762.67 844.68 772.84 853.04 783.01 860.00C791.84 866.04 800.67 870.83 809.50 876.25" fill="none" stroke="#111111" stroke-width="1.85"/>
<path d="M545.49 722.00C566.00 722.33 586.50 722.56 607.00 723.00C615.83 723.19 624.66 723.29 633.49 723.75C644.00 724.30 654.50 734.06 665.00 740.00C675.00 745.66 685.00 749.68 695.01 758.75C700.00 763.28 705.00 770.70 710.00 780.00C713.83 787.13 717.66 802.07 721.50 810.00C731.83 831.37 742.17 843.41 752.50 860.00C762.67 876.32 772.84 898.14 783.01 908.75C791.84 917.96 800.67 922.58 809.50 929.50" fill="none" stroke="#111111" stroke-width="1.85" stroke-dasharray="6 3.5"/>
<path d="M545.49 722.00C566.00 723.67 586.50 724.29 607.00 727.00C615.83 728.17 624.66 730.53 633.49 733.75C644.00 737.58 654.50 748.43 665.00 755.00C675.00 761.25 685.00 764.53 695.01 772.50C703.84 779.53 712.67 793.28 721.50 805.00C731.83 818.71 742.17 838.84 752.50 850.00C762.67 860.98 772.84 867.09 783.01 876.25C791.84 884.21 800.67 892.92 809.50 901.25" fill="none" stroke="#111111" stroke-width="1.85" stroke-dasharray="1.7 4"/>
<path d="M545.49 726.00C566.00 728.67 586.50 730.37 607.00 734.00C615.83 735.56 624.66 738.26 633.49 740.50C644.00 743.16 654.50 745.37 665.00 748.75C675.00 751.97 685.00 756.20 695.01 761.25C703.84 765.70 712.67 771.33 721.50 778.00C731.83 785.81 742.17 797.30 752.50 807.50C762.67 817.53 772.84 825.54 783.01 838.75C791.84 850.22 800.67 869.58 809.50 885.00" fill="none" stroke="#111111" stroke-width="1.85" stroke-dasharray="6 3 1.7 3"/>
<path d="M545.49 722.00L607.00 723.20L633.49 727.50L695.01 756.25L721.50 780.00L783.01 863.75L809.50 893.75" fill="none" stroke="#111111" stroke-width="0.90"/>
<path d="M545.49 917.00C566.00 916.67 586.50 916.77 607.00 916.00C611.34 915.84 615.67 914.47 620.00 913.00C624.50 911.47 629.00 907.75 633.49 904.20C644.00 895.92 654.50 881.60 665.00 870.00C675.00 858.95 685.00 848.17 695.01 836.25C700.00 830.30 705.00 822.18 710.00 817.50C713.83 813.91 717.66 810.87 721.50 808.75C731.83 803.03 742.17 799.06 752.50 796.25C762.67 793.49 772.84 790.77 783.01 790.00C791.84 789.33 800.67 789.17 809.50 788.75" fill="none" stroke="#d9141e" stroke-width="1.50"/>
<path d="M545.49 914.70C556.99 911.73 568.50 908.08 580.00 905.80C589.00 904.02 598.00 903.72 607.00 901.40C615.83 899.13 624.66 891.83 633.49 885.30C644.00 877.53 654.50 865.51 665.00 855.00C675.00 844.99 685.00 832.91 695.01 823.75C703.84 815.66 712.67 805.99 721.50 802.00C731.83 797.33 742.17 794.04 752.50 792.50C762.67 790.99 772.84 790.23 783.01 789.50C791.84 788.87 800.67 788.50 809.50 788.00" fill="none" stroke="#d9141e" stroke-width="1.85" stroke-dasharray="6 3.5"/>
<path d="M545.49 914.40C566.00 913.43 586.50 913.48 607.00 911.50C615.83 910.65 624.66 904.49 633.49 898.50C644.00 891.37 654.50 874.27 665.00 862.50C675.00 851.29 685.00 839.53 695.01 829.50C703.84 820.64 712.67 813.35 721.50 805.00C731.83 795.23 742.17 781.35 752.50 775.00C762.67 768.75 772.84 763.41 783.01 761.25C791.84 759.37 800.67 758.75 809.50 757.50" fill="none" stroke="#d9141e" stroke-width="1.85" stroke-dasharray="6 3 1.7 3"/>
<path d="M545.49 903.40C566.00 900.70 586.50 900.10 607.00 895.30C615.83 893.23 624.66 886.57 633.49 879.90C644.00 871.96 654.50 856.59 665.00 845.00C675.00 833.96 685.00 822.57 695.01 812.00C703.84 802.67 712.67 793.39 721.50 785.00C731.83 775.18 742.17 765.17 752.50 757.50C762.67 749.95 772.84 742.31 783.01 738.00C791.84 734.26 800.67 732.33 809.50 729.50" fill="none" stroke="#d9141e" stroke-width="1.85" stroke-dasharray="1.7 4"/>
<path d="M545.49 922.80C566.00 921.43 586.50 921.13 607.00 918.70C615.83 917.66 624.66 915.12 633.49 911.00C644.00 906.10 654.50 882.66 665.00 870.00C675.00 857.94 685.00 850.00 695.01 836.25C703.84 824.11 712.67 796.79 721.50 790.00C731.83 782.05 742.17 777.97 752.50 775.00C762.67 772.08 772.84 769.75 783.01 768.75C791.84 767.88 800.67 767.58 809.50 767.00" fill="none" stroke="#d9141e" stroke-width="1.85" stroke-dasharray="1.7 4"/>
<rect x="542.89" y="719.40" width="5.20" height="5.20" fill="#111111"/>
<rect x="604.40" y="729.70" width="5.20" height="5.20" fill="#111111"/>
<rect x="630.89" y="742.40" width="5.20" height="5.20" fill="#111111"/>
<rect x="692.41" y="783.65" width="5.20" height="5.20" fill="#111111"/>
<rect x="718.90" y="807.40" width="5.20" height="5.20" fill="#111111"/>
<rect x="780.41" y="857.40" width="5.20" height="5.20" fill="#111111"/>
<rect x="806.90" y="873.65" width="5.20" height="5.20" fill="#111111"/>
<circle cx="545.49" cy="722.00" r="2.80" fill="#fff" stroke="#111111" stroke-width="1.15"/>
<circle cx="607.00" cy="723.20" r="2.80" fill="#fff" stroke="#111111" stroke-width="1.15"/>
<circle cx="633.49" cy="723.75" r="2.80" fill="#fff" stroke="#111111" stroke-width="1.15"/>
<circle cx="695.01" cy="758.00" r="2.80" fill="#fff" stroke="#111111" stroke-width="1.15"/>
<circle cx="721.50" cy="811.25" r="2.80" fill="#fff" stroke="#111111" stroke-width="1.15"/>
<circle cx="783.01" cy="908.75" r="2.80" fill="#fff" stroke="#111111" stroke-width="1.15"/>
<circle cx="809.50" cy="929.50" r="2.80" fill="#fff" stroke="#111111" stroke-width="1.15"/>
<polygon points="545.49,718.50 548.99,724.45 541.99,724.45" fill="#fff" stroke="#111111" stroke-width="1.15" stroke-linejoin="round"/>
<polygon points="607.00,723.40 610.50,729.35 603.50,729.35" fill="#fff" stroke="#111111" stroke-width="1.15" stroke-linejoin="round"/>
<polygon points="633.49,730.25 636.99,736.20 629.99,736.20" fill="#fff" stroke="#111111" stroke-width="1.15" stroke-linejoin="round"/>
<polygon points="695.01,769.00 698.51,774.95 691.51,774.95" fill="#fff" stroke="#111111" stroke-width="1.15" stroke-linejoin="round"/>
<polygon points="721.50,801.50 725.00,807.45 718.00,807.45" fill="#fff" stroke="#111111" stroke-width="1.15" stroke-linejoin="round"/>
<polygon points="783.01,872.75 786.51,878.70 779.51,878.70" fill="#fff" stroke="#111111" stroke-width="1.15" stroke-linejoin="round"/>
<polygon points="809.50,897.75 813.00,903.70 806.00,903.70" fill="#fff" stroke="#111111" stroke-width="1.15" stroke-linejoin="round"/>
<path d="M542.19 726.90H548.79M545.49 723.60V730.20" stroke="#111111" stroke-width="1.1" fill="none"/>
<path d="M603.70 734.10H610.30M607.00 730.80V737.40" stroke="#111111" stroke-width="1.1" fill="none"/>
<path d="M630.19 740.50H636.79M633.49 737.20V743.80" stroke="#111111" stroke-width="1.1" fill="none"/>
<path d="M691.71 761.25H698.31M695.01 757.95V764.55" stroke="#111111" stroke-width="1.1" fill="none"/>
<path d="M718.20 778.00H724.80M721.50 774.70V781.30" stroke="#111111" stroke-width="1.1" fill="none"/>
<path d="M779.71 838.75H786.31M783.01 835.45V842.05" stroke="#111111" stroke-width="1.1" fill="none"/>
<path d="M806.20 885.00H812.80M809.50 881.70V888.30" stroke="#111111" stroke-width="1.1" fill="none"/>
<polygon points="545.49,718.40 549.09,724.70 541.89,724.70" fill="none" stroke="#111111" stroke-width="1"/><path d="M542.61 719.12L548.37 724.88M542.61 724.88L548.37 719.12M545.49 718.40V725.60" stroke="#111111" stroke-width="1" fill="none"/>
<polygon points="607.00,719.60 610.60,725.90 603.40,725.90" fill="none" stroke="#111111" stroke-width="1"/><path d="M604.12 720.32L609.88 726.08M604.12 726.08L609.88 720.32M607.00 719.60V726.80" stroke="#111111" stroke-width="1" fill="none"/>
<polygon points="633.49,723.90 637.09,730.20 629.89,730.20" fill="none" stroke="#111111" stroke-width="1"/><path d="M630.61 724.62L636.37 730.38M630.61 730.38L636.37 724.62M633.49 723.90V731.10" stroke="#111111" stroke-width="1" fill="none"/>
<polygon points="695.01,752.65 698.61,758.95 691.41,758.95" fill="none" stroke="#111111" stroke-width="1"/><path d="M692.13 753.37L697.89 759.13M692.13 759.13L697.89 753.37M695.01 752.65V759.85" stroke="#111111" stroke-width="1" fill="none"/>
<polygon points="721.50,776.40 725.10,782.70 717.90,782.70" fill="none" stroke="#111111" stroke-width="1"/><path d="M718.62 777.12L724.38 782.88M718.62 782.88L724.38 777.12M721.50 776.40V783.60" stroke="#111111" stroke-width="1" fill="none"/>
<polygon points="783.01,860.15 786.61,866.45 779.41,866.45" fill="none" stroke="#111111" stroke-width="1"/><path d="M780.13 860.87L785.89 866.63M780.13 866.63L785.89 860.87M783.01 860.15V867.35" stroke="#111111" stroke-width="1" fill="none"/>
<polygon points="809.50,890.15 813.10,896.45 805.90,896.45" fill="none" stroke="#111111" stroke-width="1"/><path d="M806.62 890.87L812.38 896.63M806.62 896.63L812.38 890.87M809.50 890.15V897.35" stroke="#111111" stroke-width="1" fill="none"/>
<polygon points="545.49,912.44 546.24,914.47 548.40,914.55 546.70,915.89 547.29,917.98 545.49,916.77 543.69,917.98 544.28,915.89 542.58,914.55 544.74,914.47" fill="#d9141e"/>
<polygon points="607.00,912.44 607.75,914.47 609.91,914.55 608.22,915.89 608.80,917.98 607.00,916.77 605.20,917.98 605.79,915.89 604.09,914.55 606.25,914.47" fill="#d9141e"/>
<polygon points="633.49,900.44 634.24,902.47 636.40,902.55 634.71,903.89 635.29,905.98 633.49,904.77 631.70,905.98 632.28,903.89 630.58,902.55 632.74,902.47" fill="#d9141e"/>
<polygon points="695.01,830.69 695.76,832.72 697.92,832.80 696.22,834.14 696.80,836.23 695.01,835.02 693.21,836.23 693.79,834.14 692.10,832.80 694.26,832.72" fill="#d9141e"/>
<polygon points="721.50,803.19 722.25,805.22 724.41,805.30 722.71,806.64 723.30,808.73 721.50,807.52 719.70,808.73 720.28,806.64 718.59,805.30 720.75,805.22" fill="#d9141e"/>
<polygon points="783.01,786.94 783.76,788.97 785.92,789.05 784.22,790.39 784.81,792.48 783.01,791.27 781.21,792.48 781.80,790.39 780.10,789.05 782.26,788.97" fill="#d9141e"/>
<polygon points="809.50,785.69 810.25,787.72 812.41,787.80 810.71,789.14 811.30,791.23 809.50,790.02 807.70,791.23 808.29,789.14 806.59,787.80 808.75,787.72" fill="#d9141e"/>
<polygon points="545.49,912.70 549.09,916.30 545.49,919.90 541.89,916.30" fill="#fff" stroke="#d9141e" stroke-width="1.15"/>
<polygon points="607.00,897.80 610.60,901.40 607.00,905.00 603.40,901.40" fill="#fff" stroke="#d9141e" stroke-width="1.15"/>
<polygon points="633.49,881.70 637.09,885.30 633.49,888.90 629.89,885.30" fill="#fff" stroke="#d9141e" stroke-width="1.15"/>
<polygon points="695.01,820.15 698.61,823.75 695.01,827.35 691.41,823.75" fill="#fff" stroke="#d9141e" stroke-width="1.15"/>
<polygon points="721.50,798.40 725.10,802.00 721.50,805.60 717.90,802.00" fill="#fff" stroke="#d9141e" stroke-width="1.15"/>
<polygon points="783.01,785.90 786.61,789.50 783.01,793.10 779.41,789.50" fill="#fff" stroke="#d9141e" stroke-width="1.15"/>
<polygon points="809.50,784.40 813.10,788.00 809.50,791.60 805.90,788.00" fill="#fff" stroke="#d9141e" stroke-width="1.15"/>
<path d="M545.49 910.40L545.49 917.40M548.52 912.15L542.46 915.65M548.52 915.65L542.46 912.15" stroke="#d9141e" stroke-width="1.3" fill="none"/>
<path d="M607.00 908.80L607.00 915.80M610.03 910.55L603.97 914.05M610.03 914.05L603.97 910.55" stroke="#d9141e" stroke-width="1.3" fill="none"/>
<path d="M633.49 900.70L633.49 907.70M636.53 902.45L630.46 905.95M636.53 905.95L630.46 902.45" stroke="#d9141e" stroke-width="1.3" fill="none"/>
<path d="M695.01 826.00L695.01 833.00M698.04 827.75L691.97 831.25M698.04 831.25L691.97 827.75" stroke="#d9141e" stroke-width="1.3" fill="none"/>
<path d="M721.50 802.75L721.50 809.75M724.53 804.50L718.47 808.00M724.53 808.00L718.47 804.50" stroke="#d9141e" stroke-width="1.3" fill="none"/>
<path d="M783.01 757.75L783.01 764.75M786.04 759.50L779.98 763.00M786.04 763.00L779.98 759.50" stroke="#d9141e" stroke-width="1.3" fill="none"/>
<path d="M809.50 754.00L809.50 761.00M812.53 755.75L806.47 759.25M812.53 759.25L806.47 755.75" stroke="#d9141e" stroke-width="1.3" fill="none"/>
<polygon points="545.49,906.70 542.63,905.05 542.63,901.75 545.49,900.10 548.35,901.75 548.35,905.05" fill="#fff" stroke="#d9141e" stroke-width="1.30" stroke-linejoin="round"/>
<polygon points="607.00,898.60 604.14,896.95 604.14,893.65 607.00,892.00 609.86,893.65 609.86,896.95" fill="#fff" stroke="#d9141e" stroke-width="1.30" stroke-linejoin="round"/>
<polygon points="633.49,883.20 630.64,881.55 630.64,878.25 633.49,876.60 636.35,878.25 636.35,881.55" fill="#fff" stroke="#d9141e" stroke-width="1.30" stroke-linejoin="round"/>
<polygon points="695.01,815.30 692.15,813.65 692.15,810.35 695.01,808.70 697.86,810.35 697.86,813.65" fill="#fff" stroke="#d9141e" stroke-width="1.30" stroke-linejoin="round"/>
<polygon points="721.50,788.30 718.64,786.65 718.64,783.35 721.50,781.70 724.36,783.35 724.36,786.65" fill="#fff" stroke="#d9141e" stroke-width="1.30" stroke-linejoin="round"/>
<polygon points="783.01,741.30 780.15,739.65 780.15,736.35 783.01,734.70 785.87,736.35 785.87,739.65" fill="#fff" stroke="#d9141e" stroke-width="1.30" stroke-linejoin="round"/>
<polygon points="809.50,732.80 806.64,731.15 806.64,727.85 809.50,726.20 812.36,727.85 812.36,731.15" fill="#fff" stroke="#d9141e" stroke-width="1.30" stroke-linejoin="round"/>
<polygon points="545.49,926.10 542.63,924.45 542.63,921.15 545.49,919.50 548.35,921.15 548.35,924.45" fill="#fff" stroke="#d9141e" stroke-width="1.30" stroke-linejoin="round"/><path d="M543.18 924.45L547.80 921.15" stroke="#d9141e" stroke-width="1"/>
<polygon points="607.00,922.80 604.14,921.15 604.14,917.85 607.00,916.20 609.86,917.85 609.86,921.15" fill="#fff" stroke="#d9141e" stroke-width="1.30" stroke-linejoin="round"/><path d="M604.69 921.15L609.31 917.85" stroke="#d9141e" stroke-width="1"/>
<polygon points="633.49,916.40 630.64,914.75 630.64,911.45 633.49,909.80 636.35,911.45 636.35,914.75" fill="#fff" stroke="#d9141e" stroke-width="1.30" stroke-linejoin="round"/><path d="M631.18 914.75L635.80 911.45" stroke="#d9141e" stroke-width="1"/>
<polygon points="695.01,839.55 692.15,837.90 692.15,834.60 695.01,832.95 697.86,834.60 697.86,837.90" fill="#fff" stroke="#d9141e" stroke-width="1.30" stroke-linejoin="round"/><path d="M692.70 837.90L697.32 834.60" stroke="#d9141e" stroke-width="1"/>
<polygon points="721.50,793.30 718.64,791.65 718.64,788.35 721.50,786.70 724.36,788.35 724.36,791.65" fill="#fff" stroke="#d9141e" stroke-width="1.30" stroke-linejoin="round"/><path d="M719.19 791.65L723.81 788.35" stroke="#d9141e" stroke-width="1"/>
<polygon points="783.01,772.05 780.15,770.40 780.15,767.10 783.01,765.45 785.87,767.10 785.87,770.40" fill="#fff" stroke="#d9141e" stroke-width="1.30" stroke-linejoin="round"/><path d="M780.70 770.40L785.32 767.10" stroke="#d9141e" stroke-width="1"/>
<polygon points="809.50,770.30 806.64,768.65 806.64,765.35 809.50,763.70 812.36,765.35 812.36,768.65" fill="#fff" stroke="#d9141e" stroke-width="1.30" stroke-linejoin="round"/><path d="M807.19 768.65L811.81 765.35" stroke="#d9141e" stroke-width="1"/>
<path d="M523.20 751.40H544.50" stroke="#111111" stroke-width="1.85"/>
<rect x="531.51" y="749.06" width="4.68" height="4.68" fill="#111111"/>
<text x="546.50" y="755.41" font-size="11.80" text-anchor="start" font-family="'Liberation Serif', serif" font-weight="normal">ASZK38-L1(50 kPa)</text>
<path d="M523.20 763.30H544.50" stroke="#111111" stroke-width="1.85" stroke-dasharray="6 3.5"/>
<circle cx="533.85" cy="763.30" r="2.52" fill="#fff" stroke="#111111" stroke-width="1.15"/>
<text x="546.50" y="767.31" font-size="11.80" text-anchor="start" font-family="'Liberation Serif', serif" font-weight="normal">ASZK38-L2(100 kPa)</text>
<path d="M523.20 775.20H544.50" stroke="#111111" stroke-width="1.85" stroke-dasharray="1.7 4"/>
<polygon points="533.85,772.05 537.00,777.40 530.70,777.40" fill="#fff" stroke="#111111" stroke-width="1.15" stroke-linejoin="round"/>
<text x="546.50" y="779.21" font-size="11.80" text-anchor="start" font-family="'Liberation Serif', serif" font-weight="normal">ASZK38-L3(110 kPa)</text>
<path d="M523.20 787.10H544.50" stroke="#111111" stroke-width="1.85" stroke-dasharray="6 3 1.7 3"/>
<path d="M530.88 787.10H536.82M533.85 784.13V790.07" stroke="#111111" stroke-width="1.1" fill="none"/>
<text x="546.50" y="791.11" font-size="11.80" text-anchor="start" font-family="'Liberation Serif', serif" font-weight="normal">ASZK38-L4(140 kPa)</text>
<path d="M523.20 799.00H544.50" stroke="#111111" stroke-width="0.90"/>
<polygon points="533.85,795.76 537.09,801.43 530.61,801.43" fill="none" stroke="#111111" stroke-width="1"/><path d="M531.26 796.41L536.44 801.59M531.26 801.59L536.44 796.41M533.85 795.76V802.24" stroke="#111111" stroke-width="1" fill="none"/>
<text x="546.50" y="803.01" font-size="11.80" text-anchor="start" font-family="'Liberation Serif', serif" font-weight="normal">ASZK38-L5(150 kPa)</text>
<path d="M523.20 810.90H544.50" stroke="#d9141e" stroke-width="1.50"/>
<polygon points="533.85,808.15 534.52,809.97 536.47,810.05 534.94,811.25 535.47,813.13 533.85,812.05 532.23,813.13 532.76,811.25 531.23,810.05 533.18,809.97" fill="#d9141e"/>
<text x="546.50" y="814.91" font-size="11.80" text-anchor="start" font-family="'Liberation Serif', serif" font-weight="normal">ASZK38-L1(50 kPa)</text>
<path d="M523.20 822.80H544.50" stroke="#d9141e" stroke-width="1.85" stroke-dasharray="6 3.5"/>
<polygon points="533.85,819.56 537.09,822.80 533.85,826.04 530.61,822.80" fill="#fff" stroke="#d9141e" stroke-width="1.15"/>
<text x="546.50" y="826.81" font-size="11.80" text-anchor="start" font-family="'Liberation Serif', serif" font-weight="normal">ASZK38-L2(100 kPa)</text>
<path d="M523.20 834.70H544.50" stroke="#d9141e" stroke-width="1.85" stroke-dasharray="6 3 1.7 3"/>
<path d="M533.85 831.55L533.85 837.85M536.58 833.12L531.12 836.27M536.58 836.27L531.12 833.12" stroke="#d9141e" stroke-width="1.3" fill="none"/>
<text x="546.50" y="838.71" font-size="11.80" text-anchor="start" font-family="'Liberation Serif', serif" font-weight="normal">ASZK38-L3(110 kPa)</text>
<path d="M523.20 846.60H544.50" stroke="#d9141e" stroke-width="1.85" stroke-dasharray="1.7 4"/>
<polygon points="533.85,849.57 531.28,848.09 531.28,845.12 533.85,843.63 536.42,845.12 536.42,848.09" fill="#fff" stroke="#d9141e" stroke-width="1.30" stroke-linejoin="round"/>
<text x="546.50" y="850.61" font-size="11.80" text-anchor="start" font-family="'Liberation Serif', serif" font-weight="normal">ASZK38-L4(110 kPa)</text>
<path d="M523.20 858.50H544.50" stroke="#d9141e" stroke-width="1.85" stroke-dasharray="1.7 4"/>
<polygon points="533.85,861.47 531.28,859.99 531.28,857.01 533.85,855.53 536.42,857.01 536.42,859.99" fill="#fff" stroke="#d9141e" stroke-width="1.30" stroke-linejoin="round"/><path d="M531.77 859.99L535.93 857.01" stroke="#d9141e" stroke-width="1"/>
<text x="546.50" y="862.51" font-size="11.80" text-anchor="start" font-family="'Liberation Serif', serif" font-weight="normal">ASZK38-L5(150 kPa)</text>
</svg></body></html>
